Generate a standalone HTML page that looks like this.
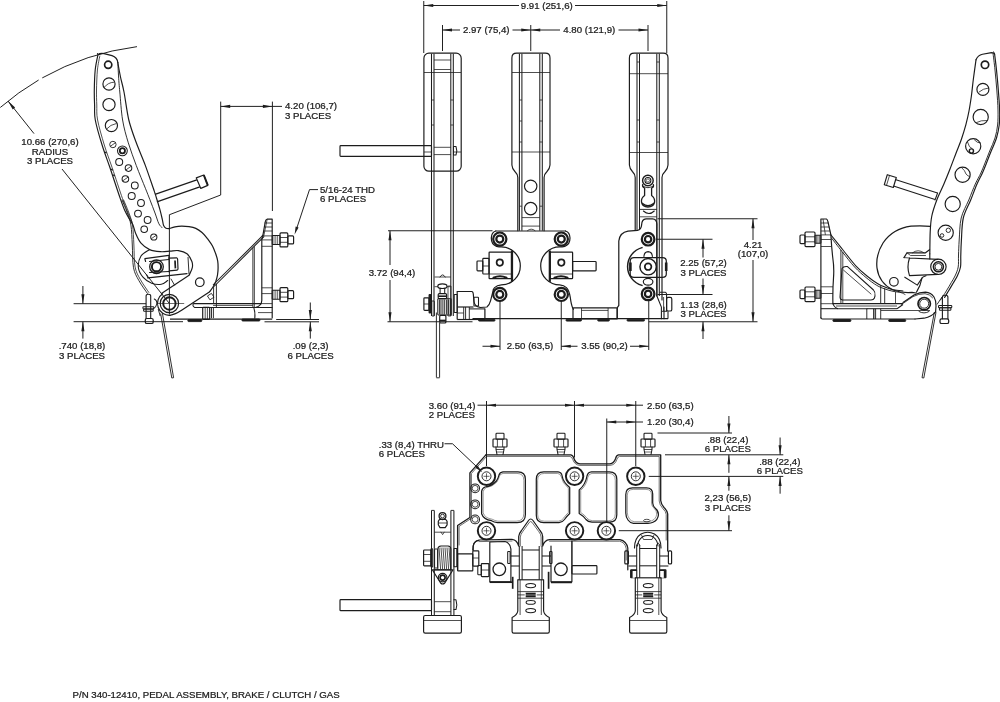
<!DOCTYPE html>
<html><head><meta charset="utf-8"><title>P/N 340-12410 Pedal Assembly</title>
<style>
html,body{margin:0;padding:0;background:#fff;}
body{width:1000px;height:702px;overflow:hidden;font-family:"Liberation Sans",sans-serif;}
svg{display:block;will-change:transform;transform:translateZ(0);}
svg text{font-family:"Liberation Sans",sans-serif;fill:#1c1c1c;}
</style></head><body>
<svg width="1000" height="702" viewBox="0 0 1000 702">
<rect x="0" y="0" width="1000" height="702" fill="#ffffff"/>
<rect x="423.9" y="53.2" width="37.3" height="118" rx="5" stroke="#1c1c1c" stroke-width="1.17" fill="none" />
<line x1="431.5" y1="53.7" x2="431.5" y2="316" stroke="#1c1c1c" stroke-width="1.04" />
<line x1="434" y1="53.7" x2="434" y2="316" stroke="#1c1c1c" stroke-width="1.04" />
<line x1="450.8" y1="53.7" x2="450.8" y2="316" stroke="#1c1c1c" stroke-width="1.04" />
<line x1="453.3" y1="53.7" x2="453.3" y2="316" stroke="#1c1c1c" stroke-width="1.04" />
<line x1="434" y1="60" x2="450.8" y2="60" stroke="#1c1c1c" stroke-width="0.78" />
<line x1="434" y1="69.5" x2="450.8" y2="69.5" stroke="#1c1c1c" stroke-width="0.78" />
<line x1="424" y1="72.5" x2="461" y2="72.5" stroke="#1c1c1c" stroke-width="0.78" />
<line x1="424" y1="152" x2="431.5" y2="152" stroke="#1c1c1c" stroke-width="0.78" />
<line x1="453.3" y1="152" x2="461" y2="152" stroke="#1c1c1c" stroke-width="0.78" />
<line x1="431.5" y1="100" x2="434" y2="100" stroke="#1c1c1c" stroke-width="0.78" />
<line x1="450.8" y1="100" x2="453.3" y2="100" stroke="#1c1c1c" stroke-width="0.78" />
<line x1="431.5" y1="125" x2="434" y2="125" stroke="#1c1c1c" stroke-width="0.78" />
<line x1="450.8" y1="125" x2="453.3" y2="125" stroke="#1c1c1c" stroke-width="0.78" />
<rect x="340" y="145.6" width="91.5" height="10.7" rx="0.8" stroke="#1c1c1c" stroke-width="1.17" fill="none" />
<line x1="434" y1="147.3" x2="450.8" y2="147.3" stroke="#1c1c1c" stroke-width="0.78" />
<line x1="434" y1="154.6" x2="450.8" y2="154.6" stroke="#1c1c1c" stroke-width="0.78" />
<path d="M453.5 146.5 L456 146.5 Q457.6 150.9 456 155 L453.5 155 Z" stroke="#1c1c1c" stroke-width="1.04" fill="none" stroke-linejoin="round" stroke-linecap="round" />
<path d="M511.9 58 Q511.9 53.2 516.7 53.2 L545.3 53.2 Q550 53.2 550 58 L550 165 Q549.8 168.5 547 171.5 Q544.3 174 544.1 177.5 L544.1 230.7 M511.9 58 L511.9 165 Q512.1 168.5 514.9 171.5 Q517.6 174 517.8 177.5 L517.8 230.7" stroke="#1c1c1c" stroke-width="1.17" fill="none" stroke-linejoin="round" stroke-linecap="round" />
<line x1="519.4" y1="53.7" x2="519.4" y2="230.7" stroke="#1c1c1c" stroke-width="1.04" />
<line x1="521.9" y1="53.7" x2="521.9" y2="230.7" stroke="#1c1c1c" stroke-width="1.04" />
<line x1="539.8" y1="53.7" x2="539.8" y2="230.7" stroke="#1c1c1c" stroke-width="1.04" />
<line x1="542.3" y1="53.7" x2="542.3" y2="230.7" stroke="#1c1c1c" stroke-width="1.04" />
<line x1="512" y1="72.5" x2="550" y2="72.5" stroke="#1c1c1c" stroke-width="0.78" />
<line x1="512" y1="152" x2="550" y2="152" stroke="#1c1c1c" stroke-width="0.78" />
<line x1="519.4" y1="100" x2="521.9" y2="100" stroke="#1c1c1c" stroke-width="0.78" />
<line x1="539.8" y1="100" x2="542.3" y2="100" stroke="#1c1c1c" stroke-width="0.78" />
<line x1="519.4" y1="121" x2="521.9" y2="121" stroke="#1c1c1c" stroke-width="0.78" />
<line x1="539.8" y1="121" x2="542.3" y2="121" stroke="#1c1c1c" stroke-width="0.78" />
<line x1="519.4" y1="142" x2="521.9" y2="142" stroke="#1c1c1c" stroke-width="0.78" />
<line x1="539.8" y1="142" x2="542.3" y2="142" stroke="#1c1c1c" stroke-width="0.78" />
<circle cx="530.7" cy="186.3" r="6.2" stroke="#1c1c1c" stroke-width="1.17" fill="none"/>
<circle cx="530.7" cy="208.6" r="6.2" stroke="#1c1c1c" stroke-width="1.17" fill="none"/>
<line x1="521.9" y1="217.6" x2="539.8" y2="217.6" stroke="#1c1c1c" stroke-width="0.78" />
<line x1="521.9" y1="226.1" x2="539.8" y2="226.1" stroke="#1c1c1c" stroke-width="0.78" />
<line x1="519.4" y1="206.2" x2="521.9" y2="206.2" stroke="#1c1c1c" stroke-width="0.78" />
<line x1="539.8" y1="206.2" x2="542.3" y2="206.2" stroke="#1c1c1c" stroke-width="0.78" />
<path d="M527.5 230.6 Q531.2 227.5 535 230.6" stroke="#1c1c1c" stroke-width="0.78" fill="none" stroke-linejoin="round" stroke-linecap="round" />
<path d="M629.4 58 Q629.4 53.2 634.2 53.2 L663.2 53.2 Q668 53.2 668 58 L668 165 Q667.8 168.5 665 171.5 Q662.2 174 662 177.5 L662 300 M629.4 58 L629.4 165 Q629.6 168.5 632.4 171.5 Q635 174 635.2 177.5 L635.2 230" stroke="#1c1c1c" stroke-width="1.17" fill="none" stroke-linejoin="round" stroke-linecap="round" />
<line x1="637" y1="53.7" x2="637" y2="230" stroke="#1c1c1c" stroke-width="1.04" />
<line x1="639.5" y1="53.7" x2="639.5" y2="230" stroke="#1c1c1c" stroke-width="1.04" />
<line x1="656.8" y1="53.7" x2="656.8" y2="296" stroke="#1c1c1c" stroke-width="1.04" />
<line x1="659.3" y1="53.7" x2="659.3" y2="296" stroke="#1c1c1c" stroke-width="1.04" />
<line x1="629.5" y1="73.7" x2="668" y2="73.7" stroke="#1c1c1c" stroke-width="0.78" />
<line x1="629.5" y1="152.5" x2="668" y2="152.5" stroke="#1c1c1c" stroke-width="0.78" />
<line x1="637" y1="62" x2="639.5" y2="62" stroke="#1c1c1c" stroke-width="0.78" />
<line x1="656.8" y1="62" x2="659.3" y2="62" stroke="#1c1c1c" stroke-width="0.78" />
<line x1="637" y1="120" x2="639.5" y2="120" stroke="#1c1c1c" stroke-width="0.78" />
<line x1="656.8" y1="120" x2="659.3" y2="120" stroke="#1c1c1c" stroke-width="0.78" />
<line x1="637" y1="142" x2="639.5" y2="142" stroke="#1c1c1c" stroke-width="0.78" />
<line x1="656.8" y1="142" x2="659.3" y2="142" stroke="#1c1c1c" stroke-width="0.78" />
<circle cx="647.9" cy="180.5" r="5.3" stroke="#1c1c1c" stroke-width="1.43" fill="none"/>
<circle cx="647.9" cy="180.5" r="3" stroke="#1c1c1c" stroke-width="1.04" fill="none"/>
<circle cx="647.9" cy="180.5" r="1.6" stroke="#1c1c1c" stroke-width="0.65" fill="none"/>
<path d="M642.6 184.6 Q642.2 187.2 644.6 188 L644.6 195.5 Q641 198 641.5 202 Q642.5 206.8 647.9 207 Q653.5 206.8 654.6 202 Q655 198 651.6 195.5 L651.6 188 Q654 187.2 653.4 184.6" stroke="#1c1c1c" stroke-width="1.30" fill="none" stroke-linejoin="round" stroke-linecap="round" />
<path d="M643 186.6 Q647.9 189 653 186.6" stroke="#1c1c1c" stroke-width="0.91" fill="none" stroke-linejoin="round" stroke-linecap="round" />
<path d="M642.5 203.5 Q647.9 208 653.6 203.5" stroke="#1c1c1c" stroke-width="1.56" fill="none" stroke-linejoin="round" stroke-linecap="round" />
<line x1="639.5" y1="209.4" x2="656.8" y2="209.4" stroke="#1c1c1c" stroke-width="0.91" />
<path d="M643.4 211 Q649 216 654.3 211" stroke="#1c1c1c" stroke-width="1.04" fill="none" stroke-linejoin="round" stroke-linecap="round" />
<line x1="639.5" y1="216.8" x2="656.8" y2="216.8" stroke="#1c1c1c" stroke-width="0.78" />
<path d="M495.8 231 L565.5 231" stroke="#1c1c1c" stroke-width="1.23" fill="none" stroke-linejoin="round" stroke-linecap="round" />
<path d="M495.8 231 Q491.5 232.3 491.3 238 Q491.3 244.5 496.5 246.3 Q499 246.9 501.3 246.9 A19 19 0 0 1 501.3 284.9 Q497 285.3 494.6 287.6 Q493.6 288.6 493.3 289.9 M484.9 308.9 L484.9 318.7" stroke="#1c1c1c" stroke-width="1.23" fill="none" stroke-linejoin="round" stroke-linecap="round" />
<path d="M565.5 231 Q569.8 232.3 570 238 Q570 244.5 564.8 246.3 Q562.3 246.9 559.7 246.9 A19 19 0 0 0 559.7 284.9 Q564 285.3 566.4 287.6 Q569.3 290.5 570.3 297.5 Q571.2 304.5 572.6 307.7 L573.4 309.3" stroke="#1c1c1c" stroke-width="1.23" fill="none" stroke-linejoin="round" stroke-linecap="round" />
<circle cx="499.8" cy="239.1" r="6.6" stroke="#1c1c1c" stroke-width="2.21" fill="none"/>
<circle cx="499.8" cy="239.1" r="3.5" stroke="#1c1c1c" stroke-width="2.21" fill="none"/>
<circle cx="561.3" cy="239.1" r="6.6" stroke="#1c1c1c" stroke-width="2.21" fill="none"/>
<circle cx="561.3" cy="239.1" r="3.5" stroke="#1c1c1c" stroke-width="2.21" fill="none"/>
<circle cx="499.8" cy="294.4" r="6.6" stroke="#1c1c1c" stroke-width="2.21" fill="none"/>
<circle cx="499.8" cy="294.4" r="3.5" stroke="#1c1c1c" stroke-width="2.21" fill="none"/>
<circle cx="561.3" cy="294.4" r="6.6" stroke="#1c1c1c" stroke-width="2.21" fill="none"/>
<circle cx="561.3" cy="294.4" r="3.5" stroke="#1c1c1c" stroke-width="2.21" fill="none"/>
<rect x="489.1" y="252.1" width="22.4" height="26.6" rx="0.6" stroke="#1c1c1c" stroke-width="1.23" fill="none" />
<circle cx="499.8" cy="262.6" r="3.2" stroke="#1c1c1c" stroke-width="1.69" fill="none"/>
<line x1="489.1" y1="274" x2="511.5" y2="274" stroke="#1c1c1c" stroke-width="0.78" />
<path d="M493.5 277.8 Q500 274.6 506.5 277.8" stroke="#1c1c1c" stroke-width="2.08" fill="none" stroke-linejoin="round" stroke-linecap="round" />
<line x1="512" y1="250.5" x2="512" y2="281.9" stroke="#1c1c1c" stroke-width="2.21" />
<rect x="482.8" y="258.4" width="6.2" height="15.6" rx="0.8" stroke="#1c1c1c" stroke-width="1.17" fill="none" />
<rect x="477" y="261" width="5.8" height="9.9" rx="0.8" stroke="#1c1c1c" stroke-width="1.17" fill="none" />
<line x1="482.8" y1="266" x2="489" y2="266" stroke="#1c1c1c" stroke-width="0.78" />
<rect x="550.2" y="252.1" width="22.4" height="26.6" rx="0.6" stroke="#1c1c1c" stroke-width="1.23" fill="none" />
<circle cx="561.3" cy="262.6" r="3.2" stroke="#1c1c1c" stroke-width="1.69" fill="none"/>
<line x1="550.2" y1="274" x2="572.6" y2="274" stroke="#1c1c1c" stroke-width="0.78" />
<path d="M554.5 277.8 Q561 274.6 567.5 277.8" stroke="#1c1c1c" stroke-width="2.08" fill="none" stroke-linejoin="round" stroke-linecap="round" />
<line x1="549.8" y1="250.5" x2="549.8" y2="281.9" stroke="#1c1c1c" stroke-width="2.21" />
<rect x="572.6" y="261.5" width="23.5" height="9.4" rx="0.8" stroke="#1c1c1c" stroke-width="1.23" fill="none" />
<line x1="472.5" y1="318.7" x2="666" y2="318.7" stroke="#1c1c1c" stroke-width="1.17" />
<rect x="573" y="307.8" width="44.2" height="11.2" rx="0.8" stroke="#1c1c1c" stroke-width="1.17" fill="none" />
<line x1="581.5" y1="308" x2="581.5" y2="318.7" stroke="#1c1c1c" stroke-width="0.78" />
<line x1="608.1" y1="308" x2="608.1" y2="318.7" stroke="#1c1c1c" stroke-width="0.78" />
<line x1="581.5" y1="310.4" x2="608.1" y2="310.4" stroke="#1c1c1c" stroke-width="0.78" />
<rect x="478.5" y="319.2" width="16.5" height="1.9" rx="0.8" stroke="#1c1c1c" stroke-width="0.91" fill="#1c1c1c" />
<rect x="566" y="319.2" width="15.5" height="1.9" rx="0.8" stroke="#1c1c1c" stroke-width="0.91" fill="#1c1c1c" />
<rect x="597.7" y="319.2" width="11.699999999999932" height="1.9" rx="0.8" stroke="#1c1c1c" stroke-width="0.91" fill="#1c1c1c" />
<rect x="627" y="319.2" width="17.5" height="1.9" rx="0.8" stroke="#1c1c1c" stroke-width="0.91" fill="#1c1c1c" />
<path d="M617.2 318.7 L617.2 308.5 Q617.4 307 618.8 305.5 L618.8 241 Q619.8 232.5 628 231.2 L637.5 230.4 Q641.3 229.5 641.6 225 Q641.8 218.9 646 218.8 L652.5 218.8 Q656.7 219 656.9 224 L656.9 296" stroke="#1c1c1c" stroke-width="1.23" fill="none" stroke-linejoin="round" stroke-linecap="round" />
<circle cx="648.1" cy="239.2" r="6.3" stroke="#1c1c1c" stroke-width="2.21" fill="none"/>
<circle cx="648.1" cy="239.2" r="3.2" stroke="#1c1c1c" stroke-width="2.21" fill="none"/>
<circle cx="648.1" cy="293.9" r="6.3" stroke="#1c1c1c" stroke-width="2.21" fill="none"/>
<circle cx="648.1" cy="293.9" r="3.2" stroke="#1c1c1c" stroke-width="2.21" fill="none"/>
<path d="M642 247.6 A19.6 19.6 0 0 0 642 285.4" stroke="#1c1c1c" stroke-width="1.49" fill="none" stroke-linejoin="round" stroke-linecap="round" />
<path d="M634 257.6 L662.5 257.6 Q666.3 257.8 666.3 261 L666.3 274 Q666.3 277.3 662.5 277.4 L634 277.4 Q630.2 277.3 630.2 274 L630.2 261 Q630.2 257.8 634 257.6 Z" stroke="#1c1c1c" stroke-width="1.23" fill="none" stroke-linejoin="round" stroke-linecap="round" />
<circle cx="648.1" cy="266.7" r="8.2" stroke="#1c1c1c" stroke-width="1.43" fill="none"/>
<circle cx="648.1" cy="266.7" r="3.3" stroke="#1c1c1c" stroke-width="1.69" fill="none"/>
<line x1="630.4" y1="262.5" x2="630.4" y2="271" stroke="#1c1c1c" stroke-width="2.60" />
<line x1="666.2" y1="262.5" x2="666.2" y2="271" stroke="#1c1c1c" stroke-width="2.60" />
<path d="M643.9 256.5 Q644.3 251.8 648.1 251.6 Q652 251.8 652.4 256.5" stroke="#1c1c1c" stroke-width="1.10" fill="none" stroke-linejoin="round" stroke-linecap="round" />
<ellipse cx="648.1" cy="281.8" rx="4.8" ry="3.4" stroke="#1c1c1c" stroke-width="1.17" fill="none" transform="rotate(0 648.1 281.8)"/>
<path d="M660.1 292.2 L665.3 292.2 Q666.6 292.5 666.6 294.5 L666.6 311.2 L662.5 311.2" stroke="#1c1c1c" stroke-width="1.10" fill="none" stroke-linejoin="round" stroke-linecap="round" />
<rect x="666.6" y="297.4" width="5.2" height="13.6" rx="1.6" stroke="#1c1c1c" stroke-width="1.17" fill="none" />
<line x1="663.6" y1="297" x2="663.6" y2="311" stroke="#1c1c1c" stroke-width="0.78" />
<path d="M656.9 296 L661.4 307.1 L661.4 318.7 M664 307.1 L664 318.7" stroke="#1c1c1c" stroke-width="1.10" fill="none" stroke-linejoin="round" stroke-linecap="round" />
<line x1="666" y1="318.7" x2="668" y2="318.7" stroke="#1c1c1c" stroke-width="1.17" />
<line x1="668" y1="311.2" x2="668" y2="318.7" stroke="#1c1c1c" stroke-width="1.04" />
<rect x="423.9" y="297.8" width="5.1" height="12.5" rx="0.8" stroke="#1c1c1c" stroke-width="1.17" fill="none" />
<line x1="423.9" y1="304" x2="429" y2="304" stroke="#1c1c1c" stroke-width="0.78" />
<rect x="429.2" y="294.6" width="1.5" height="18.3" rx="0.5" stroke="#1c1c1c" stroke-width="1.30" fill="#1c1c1c" />
<rect x="431.8" y="301" width="2.6" height="15" rx="0.4" stroke="#1c1c1c" stroke-width="0.91" fill="none" />
<line x1="434.5" y1="277" x2="450.7" y2="277" stroke="#1c1c1c" stroke-width="0.78" />
<path d="M440 277 Q442.6 272.5 445.2 277" stroke="#1c1c1c" stroke-width="0.91" fill="none" stroke-linejoin="round" stroke-linecap="round" />
<line x1="434.5" y1="286.7" x2="438" y2="286.7" stroke="#1c1c1c" stroke-width="0.78" />
<line x1="447" y1="286.7" x2="450.7" y2="286.7" stroke="#1c1c1c" stroke-width="0.78" />
<ellipse cx="442.4" cy="286.2" rx="4.6" ry="2.3" stroke="#1c1c1c" stroke-width="1.17" fill="none" transform="rotate(0 442.4 286.2)"/>
<path d="M440.1 288.3 L440.1 293.6 M444.7 288.3 L444.7 293.6" stroke="#1c1c1c" stroke-width="1.04" fill="none" stroke-linejoin="round" stroke-linecap="round" />
<rect x="438.2" y="293.6" width="8.4" height="5.1" rx="1.2" stroke="#1c1c1c" stroke-width="1.17" fill="none" />
<line x1="438.2" y1="296.2" x2="446.6" y2="296.2" stroke="#1c1c1c" stroke-width="1.56" />
<rect x="437.8" y="298.7" width="13.4" height="16.2" rx="0.6" stroke="#1c1c1c" stroke-width="1.04" fill="none" />
<line x1="439.6" y1="299.5" x2="439.6" y2="314.5" stroke="#1c1c1c" stroke-width="0.91" />
<line x1="441" y1="299.5" x2="441" y2="314.5" stroke="#1c1c1c" stroke-width="0.91" />
<line x1="442.9" y1="299.5" x2="442.9" y2="314.5" stroke="#1c1c1c" stroke-width="0.91" />
<line x1="444.7" y1="299.5" x2="444.7" y2="314.5" stroke="#1c1c1c" stroke-width="0.91" />
<line x1="446.6" y1="299.5" x2="446.6" y2="314.5" stroke="#1c1c1c" stroke-width="0.91" />
<line x1="448.4" y1="299.5" x2="448.4" y2="314.5" stroke="#1c1c1c" stroke-width="0.91" />
<line x1="450.2" y1="299.5" x2="450.2" y2="314.5" stroke="#1c1c1c" stroke-width="0.91" />
<rect x="448" y="286" width="3" height="30" rx="0.3" stroke="#1c1c1c" stroke-width="0.78" fill="none" />
<rect x="439.7" y="315.4" width="6.2" height="7.6" rx="1" stroke="#1c1c1c" stroke-width="1.17" fill="none" />
<line x1="439.7" y1="320.5" x2="445.9" y2="320.5" stroke="#1c1c1c" stroke-width="1.69" />
<line x1="436.4" y1="312.5" x2="436.4" y2="377.5" stroke="#1c1c1c" stroke-width="0.91" />
<line x1="439.6" y1="323" x2="439.6" y2="377.5" stroke="#1c1c1c" stroke-width="0.91" />
<line x1="436.4" y1="377.8" x2="439.6" y2="377.8" stroke="#1c1c1c" stroke-width="0.91" />
<rect x="454.2" y="294.5" width="3" height="18" rx="0.5" stroke="#1c1c1c" stroke-width="1.04" fill="none" />
<path d="M457.2 291.5 L472 291.5 Q473.2 292 473.3 294 L473.9 301 Q474.5 305.5 477.5 306.6 L480.4 307.5" stroke="#1c1c1c" stroke-width="1.17" fill="none" stroke-linejoin="round" stroke-linecap="round" />
<line x1="457.2" y1="291.5" x2="457.2" y2="319.5" stroke="#1c1c1c" stroke-width="1.17" />
<line x1="457.2" y1="307" x2="473.5" y2="307" stroke="#1c1c1c" stroke-width="1.17" />
<rect x="473.9" y="297.3" width="4.6" height="8.8" rx="0.6" stroke="#1c1c1c" stroke-width="1.04" fill="none" />
<path d="M480.4 307.5 L486.9 307 Q489.5 305 490.6 300.6 L493.3 289.9" stroke="#1c1c1c" stroke-width="1.17" fill="none" stroke-linejoin="round" stroke-linecap="round" />
<line x1="457.2" y1="319.5" x2="484.9" y2="319.5" stroke="#1c1c1c" stroke-width="1.17" />
<line x1="463.7" y1="307" x2="463.7" y2="319.5" stroke="#1c1c1c" stroke-width="0.91" />
<line x1="465.6" y1="307" x2="465.6" y2="319.5" stroke="#1c1c1c" stroke-width="0.91" />
<line x1="469.3" y1="307" x2="469.3" y2="319.5" stroke="#1c1c1c" stroke-width="0.91" />
<line x1="469.3" y1="308.9" x2="484.9" y2="308.9" stroke="#1c1c1c" stroke-width="1.04" />
<line x1="457.2" y1="313" x2="463.7" y2="313" stroke="#1c1c1c" stroke-width="0.78" />
<path d="M98.0 54.5 C97.5 57.1 95.8 64.1 95.2 70.0 C94.6 75.9 94.4 84.2 94.3 90.0 C94.2 95.8 94.4 100.0 94.6 105.0 C94.8 110.0 94.0 113.3 95.3 120.0 C96.5 126.7 99.6 137.0 102.1 145.0 C104.5 153.0 107.0 158.9 110.0 167.8 C113.0 176.7 117.8 191.5 120.3 198.6 C122.8 205.7 123.2 206.9 124.8 210.5 C126.4 214.1 128.6 217.6 130.0 220.0 C131.4 222.4 132.1 222.8 133.0 225.0 C133.9 227.2 134.4 230.5 135.7 233.5 C137.0 236.5 138.7 240.5 141.0 243.2 C143.3 245.9 146.4 248.2 149.6 249.6 C152.8 251.0 156.9 251.4 160.3 251.7 C163.7 252.0 166.9 251.4 169.9 251.2 C172.9 251.0 175.6 250.2 178.4 250.6 C181.2 251.0 184.8 252.0 187.0 253.8 C189.2 255.6 190.9 259.0 191.8 261.3 C192.7 263.6 192.8 265.4 192.3 267.7 C191.9 270.0 189.6 273.9 189.1 275.2" stroke="#1c1c1c" stroke-width="1.17" fill="none" stroke-linejoin="round" stroke-linecap="round" />
<path d="M99.8 56.0 C99.4 58.3 98.0 64.3 97.4 70.0 C96.9 75.7 96.6 84.2 96.5 90.0 C96.4 95.8 96.6 100.0 96.8 105.0 C97.0 110.0 96.3 113.3 97.6 120.0 C98.8 126.7 101.9 137.0 104.3 145.0 C106.7 153.0 109.2 158.9 112.2 167.8 C115.2 176.7 120.0 191.5 122.5 198.6 C125.0 205.7 125.4 206.6 127.0 210.5 C128.6 214.4 131.2 220.1 132.0 222.0" stroke="#1c1c1c" stroke-width="0.78" fill="none" stroke-linejoin="round" stroke-linecap="round" />
<path d="M98 54.5 Q100 53 104 53.6 L112 55.6 Q117.3 57.3 117.8 62.5" stroke="#1c1c1c" stroke-width="1.17" fill="none" stroke-linejoin="round" stroke-linecap="round" />
<line x1="98" y1="54.5" x2="97.2" y2="53" stroke="#1c1c1c" stroke-width="0.91" />
<path d="M117.8 62.5 C118.2 64.9 119.5 72.1 120.5 77.0 C121.5 81.9 122.6 84.8 124.0 92.0 C125.4 99.2 126.8 111.5 128.8 120.0 C130.9 128.5 133.5 135.2 136.3 142.8 C139.1 150.4 142.6 158.0 145.4 165.6 C148.2 173.2 151.6 183.4 153.3 188.3 C155.0 193.2 154.5 191.6 155.6 195.2 C156.7 198.8 158.9 205.8 160.0 209.9 C161.1 214.0 161.8 217.2 162.4 219.8 C163.0 222.4 163.0 224.1 163.6 225.5 C164.2 226.9 165.0 227.7 166.0 228.2 C167.0 228.7 168.8 228.5 169.4 228.6" stroke="#1c1c1c" stroke-width="1.17" fill="none" stroke-linejoin="round" stroke-linecap="round" />
<path d="M117.8 62.5 C117.9 64.9 118.3 72.1 118.6 77.0 C118.9 81.9 119.1 84.8 119.8 92.0 C120.5 99.2 121.2 111.5 122.6 120.0 C124.0 128.5 126.0 135.2 128.3 142.8 C130.6 150.4 133.5 158.0 136.3 165.6 C139.2 173.2 143.1 182.6 145.4 188.3 C147.7 194.0 148.3 195.6 149.9 199.7 C151.5 203.8 153.5 209.0 155.0 213.0 C156.5 217.0 157.7 221.4 158.9 223.8 C160.1 226.2 161.5 226.9 162.0 227.5" stroke="#1c1c1c" stroke-width="0.91" fill="none" stroke-linejoin="round" stroke-linecap="round" />
<circle cx="108.2" cy="64.8" r="3.6" stroke="#1c1c1c" stroke-width="1.69" fill="none"/>
<circle cx="109" cy="84" r="6.1" stroke="#1c1c1c" stroke-width="1.17" fill="none"/>
<circle cx="109" cy="104.6" r="6.1" stroke="#1c1c1c" stroke-width="1.17" fill="none"/>
<circle cx="111.4" cy="125.6" r="6.1" stroke="#1c1c1c" stroke-width="1.17" fill="none"/>
<path d="M104.5 87 Q108 82.5 113.8 82.2" stroke="#1c1c1c" stroke-width="0.78" fill="none" stroke-linejoin="round" stroke-linecap="round" />
<path d="M108.5 110.5 Q111 111 112.5 109.3" stroke="#1c1c1c" stroke-width="0.78" fill="none" stroke-linejoin="round" stroke-linecap="round" />
<path d="M106.8 128.8 Q110.5 124.5 116 123.6" stroke="#1c1c1c" stroke-width="0.78" fill="none" stroke-linejoin="round" stroke-linecap="round" />
<circle cx="112.9" cy="144.5" r="3.2" stroke="#1c1c1c" stroke-width="0.91" fill="none"/>
<line x1="110.27871345827523" y1="146.33544459632336" x2="115.52128654172478" y2="142.66455540367664" stroke="#1c1c1c" stroke-width="0.78" />
<circle cx="122.4" cy="150.8" r="4.9" stroke="#1c1c1c" stroke-width="1.04" fill="none"/>
<circle cx="122.4" cy="150.8" r="2.6" stroke="#1c1c1c" stroke-width="1.82" fill="none"/>
<circle cx="119.2" cy="161.9" r="3.5" stroke="#1c1c1c" stroke-width="1.04" fill="none"/>
<circle cx="128.5" cy="168.1" r="3.3" stroke="#1c1c1c" stroke-width="1.04" fill="none"/>
<line x1="125.79679825384633" y1="169.99280223995845" x2="131.20320174615367" y2="166.20719776004154" stroke="#1c1c1c" stroke-width="0.78" />
<circle cx="125.4" cy="179" r="3.3" stroke="#1c1c1c" stroke-width="1.04" fill="none"/>
<line x1="122.69679825384634" y1="180.89280223995846" x2="128.10320174615367" y2="177.10719776004154" stroke="#1c1c1c" stroke-width="0.78" />
<circle cx="134.8" cy="185.5" r="3.4" stroke="#1c1c1c" stroke-width="1.04" fill="none"/>
<circle cx="131.7" cy="196.1" r="3.5" stroke="#1c1c1c" stroke-width="1.04" fill="none"/>
<circle cx="141" cy="203" r="3.4" stroke="#1c1c1c" stroke-width="1.04" fill="none"/>
<circle cx="138" cy="213.6" r="3.4" stroke="#1c1c1c" stroke-width="1.04" fill="none"/>
<circle cx="147.6" cy="220" r="3.4" stroke="#1c1c1c" stroke-width="1.04" fill="none"/>
<circle cx="144.2" cy="229.2" r="3.3" stroke="#1c1c1c" stroke-width="1.04" fill="none"/>
<circle cx="153.8" cy="237" r="3.1" stroke="#1c1c1c" stroke-width="1.04" fill="none"/>
<line x1="151.26062866270414" y1="238.77808695268826" x2="156.3393713372959" y2="235.22191304731174" stroke="#1c1c1c" stroke-width="0.78" />
<line x1="104.8" y1="151.9" x2="106.6" y2="153.1" stroke="#1c1c1c" stroke-width="1.17" />
<line x1="111.0" y1="169.0" x2="112.8" y2="170.2" stroke="#1c1c1c" stroke-width="1.17" />
<line x1="113.0" y1="174.70000000000002" x2="114.8" y2="175.9" stroke="#1c1c1c" stroke-width="1.17" />
<line x1="155" y1="194.4" x2="196.8" y2="179.9" stroke="#1c1c1c" stroke-width="1.17" />
<line x1="156.9" y1="201.9" x2="199.8" y2="186.9" stroke="#1c1c1c" stroke-width="1.17" />
<path d="M196.3 177.9 L203.8 175 L207.8 185.4 L200.8 188.4 Z" stroke="#1c1c1c" stroke-width="1.17" fill="none" stroke-linejoin="round" stroke-linecap="round" />
<line x1="203.8" y1="175" x2="207.8" y2="185.4" stroke="#1c1c1c" stroke-width="1.95" />
<path d="M122.0 200.0 C122.8 202.0 125.5 207.8 127.0 212.0 C128.5 216.2 130.0 219.5 130.9 225.0 C131.8 230.5 131.9 237.9 132.3 245.0 C132.7 252.1 132.4 261.8 133.5 267.7 C134.6 273.6 136.6 276.3 138.9 280.6 C141.2 284.9 146.0 291.3 147.4 293.4" stroke="#1c1c1c" stroke-width="0.91" fill="none" stroke-linejoin="round" stroke-linecap="round" />
<path d="M123.6 200.0 C124.4 202.0 127.1 207.8 128.6 212.0 C130.1 216.2 131.6 219.5 132.5 225.0 C133.4 230.5 133.5 238.0 133.9 245.0 C134.3 252.0 134.0 261.2 135.1 267.0 C136.2 272.8 138.1 275.4 140.4 279.6 C142.7 283.8 147.4 290.3 148.8 292.4" stroke="#1c1c1c" stroke-width="0.78" fill="none" stroke-linejoin="round" stroke-linecap="round" />
<path d="M169.4 228.6 C170.3 228.3 172.9 227.2 175.0 226.8 C177.1 226.4 179.5 226.2 181.8 226.2 C184.1 226.2 186.7 226.2 189.0 226.6 C191.3 227.0 193.6 227.4 195.8 228.4 C198.0 229.4 200.0 230.8 202.0 232.5 C204.0 234.2 205.9 236.7 207.7 238.9 C209.4 241.2 211.2 243.5 212.5 246.0 C213.8 248.5 214.8 251.3 215.7 253.8 C216.6 256.3 217.3 258.7 217.7 261.0 C218.1 263.3 218.1 265.5 218.1 267.8 C218.1 270.1 217.9 272.7 217.5 275.0 C217.1 277.3 216.4 279.8 215.7 281.8 C214.9 283.8 214.0 285.4 213.0 287.0 C212.0 288.6 210.2 290.9 209.7 291.7" stroke="#1c1c1c" stroke-width="1.23" fill="none" stroke-linejoin="round" stroke-linecap="round" />
<path d="M209.7 291.7 L182 310 Q175 314.6 169.9 315.3" stroke="#1c1c1c" stroke-width="1.23" fill="none" stroke-linejoin="round" stroke-linecap="round" />
<circle cx="169.4" cy="303.5" r="9.2" stroke="#1c1c1c" stroke-width="1.17" fill="none"/>
<circle cx="169.4" cy="303.5" r="6.2" stroke="#1c1c1c" stroke-width="1.95" fill="none"/>
<path d="M162.6 293.8 A11.8 11.8 0 0 0 169.9 315.3" stroke="#1c1c1c" stroke-width="1.17" fill="none" stroke-linejoin="round" stroke-linecap="round" />
<line x1="157" y1="303.5" x2="184.2" y2="303.5" stroke="#1c1c1c" stroke-width="0.65" />
<line x1="189.1" y1="275.2" x2="161.5" y2="293.6" stroke="#1c1c1c" stroke-width="1.17" />
<path d="M149.6 249.6 C148.2 250.7 142.9 253.0 141.0 256.0 C139.1 259.0 138.0 264.1 138.4 267.7 C138.8 271.3 141.0 274.8 143.2 277.4 C145.4 280.0 148.7 282.0 151.7 283.2 C154.7 284.4 158.6 284.7 161.3 284.3 C164.0 283.9 166.6 281.2 167.7 280.6" stroke="#1c1c1c" stroke-width="1.10" fill="none" stroke-linejoin="round" stroke-linecap="round" />
<path d="M171 279 L174.5 285" stroke="#1c1c1c" stroke-width="0.91" fill="none" stroke-linejoin="round" stroke-linecap="round" />
<path d="M145.6 261.5 L144.8 258.7 L168.8 255.4" stroke="#1c1c1c" stroke-width="1.17" fill="none" stroke-linejoin="round" stroke-linecap="round" />
<path d="M149.5 261.6 L168.8 259.6 M149.5 272.6 L168.8 271.6" stroke="#1c1c1c" stroke-width="1.04" fill="none" stroke-linejoin="round" stroke-linecap="round" />
<path d="M148 277.9 L187 273.6" stroke="#1c1c1c" stroke-width="1.23" fill="none" stroke-linejoin="round" stroke-linecap="round" />
<path d="M148 277.9 L146.6 274.8" stroke="#1c1c1c" stroke-width="1.04" fill="none" stroke-linejoin="round" stroke-linecap="round" />
<path d="M168.8 258.1 L176.6 257.8 Q177.5 258 177.6 259.2 L178 268.8 Q178 270 177 270.2 L169.3 270.9" stroke="#1c1c1c" stroke-width="1.17" fill="none" stroke-linejoin="round" stroke-linecap="round" />
<line x1="175" y1="260.5" x2="175.4" y2="268.4" stroke="#1c1c1c" stroke-width="1.69" />
<line x1="168.8" y1="255.4" x2="169.3" y2="272.8" stroke="#1c1c1c" stroke-width="0.91" />
<line x1="188" y1="257" x2="189" y2="274" stroke="#1c1c1c" stroke-width="0.91" />
<circle cx="156.5" cy="266.7" r="6.8" stroke="#1c1c1c" stroke-width="1.30" fill="none"/>
<circle cx="156.5" cy="266.7" r="4.6" stroke="#1c1c1c" stroke-width="1.95" fill="none"/>
<circle cx="199.8" cy="282.2" r="4.3" stroke="#1c1c1c" stroke-width="1.23" fill="none"/>
<rect x="208.3" y="294.3" width="4.8" height="4.6" stroke="#1c1c1c" stroke-width="0.8" fill="none" transform="rotate(-33 210.7 296.6)"/>
<path d="M146.1 296 Q146.1 294.3 148.4 294.3 Q150.7 294.3 150.7 296 L150.7 318.5 M146.1 296 L146.1 318.5" stroke="#1c1c1c" stroke-width="1.10" fill="none" stroke-linejoin="round" stroke-linecap="round" />
<rect x="142.9" y="306.7" width="11" height="2.2" rx="0.8" stroke="#1c1c1c" stroke-width="1.04" fill="none" />
<rect x="143.6" y="308.9" width="9.6" height="2.4" rx="0.8" stroke="#1c1c1c" stroke-width="1.04" fill="none" />
<rect x="145.3" y="318.5" width="7.9" height="5" rx="1.6" stroke="#1c1c1c" stroke-width="1.23" fill="none" />
<path d="M154.3 299 Q157.3 300.5 156.8 304 Q156 307.5 153.5 308.5" stroke="#1c1c1c" stroke-width="1.04" fill="none" stroke-linejoin="round" stroke-linecap="round" />
<line x1="160.6" y1="313.5" x2="171.8" y2="378" stroke="#1c1c1c" stroke-width="0.91" />
<line x1="162.4" y1="313.2" x2="173.6" y2="377.7" stroke="#1c1c1c" stroke-width="0.91" />
<line x1="171.8" y1="378" x2="173.6" y2="377.7" stroke="#1c1c1c" stroke-width="0.91" />
<line x1="158.2" y1="309" x2="160.2" y2="316" stroke="#1c1c1c" stroke-width="0.91" />
<path d="M272.2 219.2 L272.2 317.8 M272.2 219.2 L267 219.2 Q265.6 219.6 265.2 222 L262.8 235.8 L261.8 239.5 L261.8 300.5 Q261.5 305.8 256 307.4" stroke="#1c1c1c" stroke-width="1.17" fill="none" stroke-linejoin="round" stroke-linecap="round" />
<line x1="264.6" y1="223" x2="272.2" y2="223" stroke="#1c1c1c" stroke-width="0.78" />
<line x1="264.6" y1="227" x2="272.2" y2="227" stroke="#1c1c1c" stroke-width="0.78" />
<line x1="263.6" y1="231" x2="272.2" y2="231" stroke="#1c1c1c" stroke-width="0.78" />
<line x1="267.2" y1="219.2" x2="263.8" y2="235.8" stroke="#1c1c1c" stroke-width="0.78" />
<line x1="261.8" y1="235.9" x2="272.2" y2="235.9" stroke="#1c1c1c" stroke-width="0.78" />
<line x1="261.8" y1="239.9" x2="272.2" y2="239.9" stroke="#1c1c1c" stroke-width="0.78" />
<line x1="261.8" y1="246.3" x2="272.2" y2="246.3" stroke="#1c1c1c" stroke-width="0.78" />
<line x1="261.8" y1="287.8" x2="272.2" y2="287.8" stroke="#1c1c1c" stroke-width="0.78" />
<line x1="261.8" y1="293.6" x2="272.2" y2="293.6" stroke="#1c1c1c" stroke-width="0.78" />
<line x1="261.8" y1="303.6" x2="272.2" y2="303.6" stroke="#1c1c1c" stroke-width="0.78" />
<rect x="272.2" y="235.4" width="7.8" height="9" rx="0.5" stroke="#1c1c1c" stroke-width="1.04" fill="none" />
<line x1="274" y1="235.4" x2="274" y2="244.4" stroke="#1c1c1c" stroke-width="0.65" />
<line x1="275.8" y1="235.4" x2="275.8" y2="244.4" stroke="#1c1c1c" stroke-width="0.65" />
<line x1="277.6" y1="235.4" x2="277.6" y2="244.4" stroke="#1c1c1c" stroke-width="0.65" />
<rect x="280" y="232.9" width="7.8" height="14" rx="1" stroke="#1c1c1c" stroke-width="1.17" fill="none" />
<line x1="280" y1="237.5" x2="287.8" y2="237.5" stroke="#1c1c1c" stroke-width="0.78" />
<line x1="280" y1="242.3" x2="287.8" y2="242.3" stroke="#1c1c1c" stroke-width="0.78" />
<rect x="287.8" y="235.9" width="5.8" height="8" rx="1" stroke="#1c1c1c" stroke-width="1.17" fill="none" />
<rect x="272.2" y="290.2" width="7.8" height="9" rx="0.5" stroke="#1c1c1c" stroke-width="1.04" fill="none" />
<line x1="274" y1="290.2" x2="274" y2="299.2" stroke="#1c1c1c" stroke-width="0.65" />
<line x1="275.8" y1="290.2" x2="275.8" y2="299.2" stroke="#1c1c1c" stroke-width="0.65" />
<line x1="277.6" y1="290.2" x2="277.6" y2="299.2" stroke="#1c1c1c" stroke-width="0.65" />
<rect x="280" y="287.7" width="7.8" height="14" rx="1" stroke="#1c1c1c" stroke-width="1.17" fill="none" />
<line x1="280" y1="292.3" x2="287.8" y2="292.3" stroke="#1c1c1c" stroke-width="0.78" />
<line x1="280" y1="297.09999999999997" x2="287.8" y2="297.09999999999997" stroke="#1c1c1c" stroke-width="0.78" />
<rect x="287.8" y="290.7" width="5.8" height="8" rx="1" stroke="#1c1c1c" stroke-width="1.17" fill="none" />
<line x1="263.4" y1="234.9" x2="213" y2="285" stroke="#1c1c1c" stroke-width="1.04" />
<line x1="264.2" y1="236.4" x2="214" y2="286.5" stroke="#1c1c1c" stroke-width="1.04" />
<line x1="252.9" y1="247.9" x2="252.9" y2="307.4" stroke="#1c1c1c" stroke-width="0.91" />
<line x1="254.4" y1="246.4" x2="254.4" y2="307.4" stroke="#1c1c1c" stroke-width="0.78" />
<line x1="216.4" y1="283.8" x2="216.4" y2="307.4" stroke="#1c1c1c" stroke-width="0.91" />
<line x1="213.6" y1="286.5" x2="213.6" y2="303.7" stroke="#1c1c1c" stroke-width="0.91" />
<line x1="193.5" y1="303.7" x2="261.8" y2="303.7" stroke="#1c1c1c" stroke-width="1.17" />
<line x1="201" y1="307.4" x2="256" y2="307.4" stroke="#1c1c1c" stroke-width="1.04" />
<line x1="213" y1="305.4" x2="252.9" y2="305.4" stroke="#1c1c1c" stroke-width="0.78" />
<path d="M193.5 303.7 Q192 305.5 194.5 307.4 L201 307.4" stroke="#1c1c1c" stroke-width="1.04" fill="none" stroke-linejoin="round" stroke-linecap="round" />
<line x1="170" y1="319.1" x2="272.2" y2="319.1" stroke="#1c1c1c" stroke-width="1.17" />
<path d="M253.8 307.4 Q255.4 312.5 254.8 318.2" stroke="#1c1c1c" stroke-width="1.04" fill="none" stroke-linejoin="round" stroke-linecap="round" />
<path d="M256 307.4 L272.2 307.4" stroke="#1c1c1c" stroke-width="1.04" fill="none" stroke-linejoin="round" stroke-linecap="round" />
<line x1="258" y1="312.6" x2="272.2" y2="312.6" stroke="#1c1c1c" stroke-width="0.78" />
<rect x="202.7" y="307.4" width="7" height="12" rx="0.8" stroke="#1c1c1c" stroke-width="1.17" fill="none" />
<line x1="205.2" y1="307.4" x2="205.2" y2="319.4" stroke="#1c1c1c" stroke-width="0.78" />
<line x1="207.4" y1="307.4" x2="207.4" y2="319.4" stroke="#1c1c1c" stroke-width="0.78" />
<line x1="211.5" y1="307.4" x2="211.5" y2="318.2" stroke="#1c1c1c" stroke-width="0.91" />
<line x1="213.4" y1="307.4" x2="213.4" y2="318.2" stroke="#1c1c1c" stroke-width="0.91" />
<rect x="187.8" y="319.6" width="14" height="2" rx="0.8" stroke="#1c1c1c" stroke-width="0.91" fill="#1c1c1c" />
<rect x="241.9" y="319" width="18" height="2" rx="0.8" stroke="#1c1c1c" stroke-width="0.91" fill="#1c1c1c" />
<path d="M976.0 59.8 C975.6 62.8 974.3 72.0 973.5 78.0 C972.7 84.0 972.1 90.5 971.4 96.0 C970.6 101.5 969.9 106.2 969.0 111.0 C968.1 115.8 967.1 119.9 965.9 124.6 C964.6 129.3 963.1 134.2 961.5 139.0 C959.9 143.8 957.9 148.2 956.0 153.2 C954.1 158.2 952.0 163.9 950.0 169.0 C948.0 174.1 946.1 178.8 943.9 184.0 C941.7 189.2 938.8 194.7 936.8 200.0 C934.8 205.3 932.9 210.7 931.8 216.0 C930.7 221.3 930.5 225.6 930.2 231.9 C929.9 238.2 929.9 250.2 929.8 253.8" stroke="#1c1c1c" stroke-width="1.17" fill="none" stroke-linejoin="round" stroke-linecap="round" />
<path d="M976 59.8 Q977.8 55.5 982.5 54.3 L991.5 52.6 Q993.8 52.6 994.6 54" stroke="#1c1c1c" stroke-width="1.17" fill="none" stroke-linejoin="round" stroke-linecap="round" />
<path d="M994.6 54.0 C994.9 56.7 995.9 64.0 996.5 70.0 C997.1 76.0 997.8 83.3 998.3 90.0 C998.8 96.7 999.5 104.2 999.6 110.0 C999.8 115.8 999.7 120.3 999.2 125.0 C998.7 129.7 997.8 133.7 996.5 138.0 C995.2 142.3 992.9 146.8 991.2 151.0 C989.5 155.2 988.0 159.3 986.5 163.0 C985.0 166.7 984.0 169.5 982.4 173.0 C980.8 176.5 979.0 179.5 977.0 184.0 C975.0 188.5 973.0 194.3 970.7 200.0 C968.4 205.7 964.8 211.3 963.3 218.0 C961.8 224.7 961.8 233.8 961.4 240.0 C961.0 246.2 960.9 250.5 960.8 255.0 C960.6 259.5 961.1 263.5 960.5 267.0 C959.9 270.5 958.5 273.4 957.3 276.0 C956.1 278.6 954.9 280.2 953.4 282.7 C951.9 285.2 950.0 288.5 948.5 291.0 C947.0 293.5 945.2 296.4 944.6 297.5" stroke="#1c1c1c" stroke-width="1.17" fill="none" stroke-linejoin="round" stroke-linecap="round" />
<path d="M993.0 53.0 C993.3 55.8 994.4 63.8 995.0 70.0 C995.6 76.2 996.3 83.3 996.8 90.0 C997.3 96.7 997.9 104.2 998.0 110.0 C998.1 115.8 998.1 120.3 997.6 125.0 C997.1 129.7 996.3 133.7 995.0 138.0 C993.7 142.3 991.4 146.8 989.7 151.0 C988.0 155.2 986.5 159.3 985.0 163.0 C983.5 166.7 982.5 169.5 980.9 173.0 C979.3 176.5 977.3 179.5 975.3 184.0 C973.3 188.5 971.1 194.3 968.8 200.0 C966.4 205.7 962.8 211.3 961.2 218.0 C959.6 224.7 959.7 233.8 959.2 240.0 C958.8 246.2 958.7 250.5 958.5 255.0 C958.3 259.5 958.8 263.5 958.2 267.0 C957.6 270.5 956.2 273.4 955.0 276.0 C953.8 278.6 952.7 280.2 951.2 282.7 C949.8 285.2 948.1 288.1 946.3 291.0 C944.5 293.9 941.5 298.5 940.5 300.0" stroke="#1c1c1c" stroke-width="0.91" fill="none" stroke-linejoin="round" stroke-linecap="round" />
<line x1="994.6" y1="54" x2="993.5" y2="51.5" stroke="#1c1c1c" stroke-width="0.91" />
<circle cx="985" cy="64.8" r="3.7" stroke="#1c1c1c" stroke-width="1.69" fill="none"/>
<circle cx="982.9" cy="89.4" r="6" stroke="#1c1c1c" stroke-width="1.17" fill="none"/>
<path d="M979 92 Q983 88.5 988.5 88" stroke="#1c1c1c" stroke-width="0.78" fill="none" stroke-linejoin="round" stroke-linecap="round" />
<circle cx="980.7" cy="117" r="7.6" stroke="#1c1c1c" stroke-width="1.17" fill="none"/>
<path d="M976.5 122.5 Q981 120 987 120.5" stroke="#1c1c1c" stroke-width="0.78" fill="none" stroke-linejoin="round" stroke-linecap="round" />
<circle cx="973.2" cy="146.2" r="7.6" stroke="#1c1c1c" stroke-width="1.17" fill="none"/>
<circle cx="971.4" cy="151" r="2.1" stroke="#1c1c1c" stroke-width="1.43" fill="none"/>
<path d="M967.5 142 Q969 148 972 148.7 M974.5 140 Q977 143 980.3 143" stroke="#1c1c1c" stroke-width="0.78" fill="none" stroke-linejoin="round" stroke-linecap="round" />
<circle cx="962.6" cy="174.8" r="7.6" stroke="#1c1c1c" stroke-width="1.17" fill="none"/>
<path d="M962 168 Q965 170.5 966 174 Q968 176.5 969.8 176.5" stroke="#1c1c1c" stroke-width="0.78" fill="none" stroke-linejoin="round" stroke-linecap="round" />
<circle cx="952.7" cy="204" r="7.6" stroke="#1c1c1c" stroke-width="1.17" fill="none"/>
<circle cx="945.7" cy="232.7" r="7.6" stroke="#1c1c1c" stroke-width="1.17" fill="none"/>
<circle cx="948.3" cy="230.3" r="2.2" stroke="#1c1c1c" stroke-width="0.91" fill="none"/>
<circle cx="942" cy="235.5" r="1.8" stroke="#1c1c1c" stroke-width="0.91" fill="none"/>
<line x1="895.2" y1="179.5" x2="937.5" y2="193" stroke="#1c1c1c" stroke-width="1.17" />
<line x1="893.5" y1="186" x2="935" y2="199.5" stroke="#1c1c1c" stroke-width="1.17" />
<path d="M887.3 174.7 L896.3 177.5 L893.3 187.5 L884.3 184.7 Z" stroke="#1c1c1c" stroke-width="1.17" fill="none" stroke-linejoin="round" stroke-linecap="round" />
<line x1="889.5" y1="175.5" x2="886.5" y2="185.4" stroke="#1c1c1c" stroke-width="0.78" />
<path d="M930.4 226.4 Q922 225.6 911 226.2 Q893 228.5 883 243 Q875.5 255 877 268 Q879 283 893 290 Q902 293.2 912 292.4 L916 293" stroke="#1c1c1c" stroke-width="1.23" fill="none" stroke-linejoin="round" stroke-linecap="round" />
<circle cx="893.9" cy="281.8" r="4.3" stroke="#1c1c1c" stroke-width="1.17" fill="none"/>
<path d="M909.5 258 L938 259.3 M909.5 275.6 L938 274.4 M909.5 258 Q906.5 266.8 909.5 275.6" stroke="#1c1c1c" stroke-width="1.17" fill="none" stroke-linejoin="round" stroke-linecap="round" />
<circle cx="938.4" cy="266.8" r="7.7" stroke="#1c1c1c" stroke-width="1.17" fill="none"/>
<circle cx="938.4" cy="266.8" r="5" stroke="#1c1c1c" stroke-width="1.56" fill="none"/>
<circle cx="938.4" cy="266.8" r="3.4" stroke="#1c1c1c" stroke-width="0.91" fill="none"/>
<path d="M904 257.6 L907 252.8 L925.5 252.8 L929.5 249.7" stroke="#1c1c1c" stroke-width="1.17" fill="none" stroke-linejoin="round" stroke-linecap="round" />
<path d="M904 257.6 L909.5 258 M907 252.8 L910.5 255.5 L925.5 255.5" stroke="#1c1c1c" stroke-width="0.78" fill="none" stroke-linejoin="round" stroke-linecap="round" />
<path d="M912.5 252.8 Q918 248.5 924 252.8" stroke="#1c1c1c" stroke-width="0.78" fill="none" stroke-linejoin="round" stroke-linecap="round" />
<path d="M904.8 277.2 L917.3 285.1 L922 278" stroke="#1c1c1c" stroke-width="1.10" fill="none" stroke-linejoin="round" stroke-linecap="round" />
<path d="M929.8 253.8 L929.8 259 M926 275.8 Q922.5 277 922 278 Q920.5 286 916.5 292.1" stroke="#1c1c1c" stroke-width="1.17" fill="none" stroke-linejoin="round" stroke-linecap="round" />
<path d="M935 200 L937.6 193" stroke="#1c1c1c" stroke-width="1.04" fill="none" stroke-linejoin="round" stroke-linecap="round" />
<circle cx="924.2" cy="303.7" r="6.2" stroke="#1c1c1c" stroke-width="1.69" fill="none"/>
<circle cx="924.2" cy="303.7" r="4.5" stroke="#1c1c1c" stroke-width="0.91" fill="none"/>
<path d="M903 302.5 L914 295 Q919.5 292.2 925.5 292.2 Q931 292.6 934 297 Q936.2 300.5 936 306 L935.6 311.8" stroke="#1c1c1c" stroke-width="1.17" fill="none" stroke-linejoin="round" stroke-linecap="round" />
<path d="M901.5 304.5 L913 296.6 Q918.5 293.7 925 293.7 Q929.8 294 932.6 297.8" stroke="#1c1c1c" stroke-width="0.78" fill="none" stroke-linejoin="round" stroke-linecap="round" />
<path d="M935.6 311.8 Q932 316.5 924 318.2 L915 319" stroke="#1c1c1c" stroke-width="1.17" fill="none" stroke-linejoin="round" stroke-linecap="round" />
<path d="M919 311.5 Q924 314.5 929 311.5" stroke="#1c1c1c" stroke-width="0.91" fill="none" stroke-linejoin="round" stroke-linecap="round" />
<path d="M942.4 297 Q942.4 295.3 945.1 295.3 Q947.9 295.3 947.9 297 L947.9 318.8 M942.4 297 L942.4 318.8" stroke="#1c1c1c" stroke-width="1.10" fill="none" stroke-linejoin="round" stroke-linecap="round" />
<rect x="938.5" y="305.4" width="13.3" height="2.4" rx="0.8" stroke="#1c1c1c" stroke-width="1.04" fill="none" />
<rect x="939.4" y="307.8" width="11.5" height="2.4" rx="0.8" stroke="#1c1c1c" stroke-width="1.04" fill="none" />
<rect x="940" y="318.8" width="8.7" height="4.7" rx="1.6" stroke="#1c1c1c" stroke-width="1.23" fill="none" />
<line x1="937" y1="304.5" x2="942" y2="297" stroke="#1c1c1c" stroke-width="0.91" />
<line x1="934.4" y1="312" x2="922" y2="377.7" stroke="#1c1c1c" stroke-width="0.91" />
<line x1="936" y1="312.3" x2="923.8" y2="378" stroke="#1c1c1c" stroke-width="0.91" />
<line x1="922" y1="377.7" x2="923.8" y2="378" stroke="#1c1c1c" stroke-width="0.91" />
<path d="M820.9 219 L820.9 317.8 M820.9 219 L826.5 219 Q827.5 219.5 828 222 L830.9 234.9 Q831.5 247 832.8 258 Q834.3 268 833.5 278 Q832.6 290 832.9 303.7" stroke="#1c1c1c" stroke-width="1.17" fill="none" stroke-linejoin="round" stroke-linecap="round" />
<line x1="823" y1="219" x2="825.4" y2="234.9" stroke="#1c1c1c" stroke-width="0.78" />
<line x1="820.9" y1="223" x2="828.5" y2="223" stroke="#1c1c1c" stroke-width="0.78" />
<line x1="820.9" y1="227" x2="829.3" y2="227" stroke="#1c1c1c" stroke-width="0.78" />
<line x1="820.9" y1="231" x2="830.1" y2="231" stroke="#1c1c1c" stroke-width="0.78" />
<line x1="820.9" y1="234.9" x2="831" y2="234.9" stroke="#1c1c1c" stroke-width="0.78" />
<line x1="820.9" y1="239.5" x2="831" y2="239.5" stroke="#1c1c1c" stroke-width="0.78" />
<line x1="820.9" y1="246.5" x2="831" y2="246.5" stroke="#1c1c1c" stroke-width="0.78" />
<line x1="820.9" y1="286.8" x2="833" y2="286.8" stroke="#1c1c1c" stroke-width="0.78" />
<line x1="820.9" y1="293.5" x2="833" y2="293.5" stroke="#1c1c1c" stroke-width="0.78" />
<line x1="820.9" y1="303.7" x2="833" y2="303.7" stroke="#1c1c1c" stroke-width="0.78" />
<rect x="815" y="235.3" width="5.9" height="8" rx="0.5" stroke="#1c1c1c" stroke-width="1.04" fill="none" />
<line x1="816.4" y1="235.3" x2="816.4" y2="243.3" stroke="#1c1c1c" stroke-width="0.65" />
<line x1="817.9" y1="235.3" x2="817.9" y2="243.3" stroke="#1c1c1c" stroke-width="0.65" />
<line x1="819.4" y1="235.3" x2="819.4" y2="243.3" stroke="#1c1c1c" stroke-width="0.65" />
<rect x="805" y="232.0" width="10" height="14.6" rx="1" stroke="#1c1c1c" stroke-width="1.17" fill="none" />
<line x1="805" y1="236.8" x2="815" y2="236.8" stroke="#1c1c1c" stroke-width="0.78" />
<line x1="805" y1="241.8" x2="815" y2="241.8" stroke="#1c1c1c" stroke-width="0.78" />
<rect x="800" y="235.0" width="5" height="8.6" rx="1" stroke="#1c1c1c" stroke-width="1.17" fill="none" />
<rect x="815" y="290.3" width="5.9" height="8" rx="0.5" stroke="#1c1c1c" stroke-width="1.04" fill="none" />
<line x1="816.4" y1="290.3" x2="816.4" y2="298.3" stroke="#1c1c1c" stroke-width="0.65" />
<line x1="817.9" y1="290.3" x2="817.9" y2="298.3" stroke="#1c1c1c" stroke-width="0.65" />
<line x1="819.4" y1="290.3" x2="819.4" y2="298.3" stroke="#1c1c1c" stroke-width="0.65" />
<rect x="805" y="287.0" width="10" height="14.6" rx="1" stroke="#1c1c1c" stroke-width="1.17" fill="none" />
<line x1="805" y1="291.8" x2="815" y2="291.8" stroke="#1c1c1c" stroke-width="0.78" />
<line x1="805" y1="296.8" x2="815" y2="296.8" stroke="#1c1c1c" stroke-width="0.78" />
<rect x="800" y="290.0" width="5" height="8.6" rx="1" stroke="#1c1c1c" stroke-width="1.17" fill="none" />
<path d="M842 268.5 Q843.5 266 847.5 266.6 L873.5 290 Q875.5 292 875 296 L874.3 298.3 Q873.6 300 871 300 L842.5 300 Q840 299.6 840 297 Z" stroke="#1c1c1c" stroke-width="1.04" fill="none" stroke-linejoin="round" stroke-linecap="round" />
<path d="M843.6 270.2 L871 294" stroke="#1c1c1c" stroke-width="0.78" fill="none" stroke-linejoin="round" stroke-linecap="round" />
<path d="M830.9 234.9 C832.9 237.4 838.9 244.8 843.0 250.0 C847.1 255.2 851.8 261.5 855.8 265.8 C859.8 270.1 863.3 273.0 867.0 276.0 C870.7 279.0 874.6 281.9 877.8 283.8 C881.0 285.7 883.4 286.5 886.0 287.5 C888.6 288.5 890.9 289.1 893.7 289.7 C896.5 290.3 901.5 290.8 903.0 291.0" stroke="#1c1c1c" stroke-width="1.04" fill="none" stroke-linejoin="round" stroke-linecap="round" />
<path d="M831.5 238.0 C833.2 240.2 838.1 246.7 842.0 251.5 C845.9 256.3 850.6 262.7 854.6 267.0 C858.6 271.3 862.3 274.4 866.0 277.5 C869.7 280.6 873.6 283.5 876.8 285.4 C880.0 287.3 882.3 288.0 885.0 289.0 C887.7 290.0 890.3 290.7 893.0 291.3 C895.7 291.9 899.0 292.1 901.0 292.6 C903.0 293.1 904.3 294.2 905.0 294.5" stroke="#1c1c1c" stroke-width="0.91" fill="none" stroke-linejoin="round" stroke-linecap="round" />
<line x1="840.9" y1="249.8" x2="840.9" y2="303.7" stroke="#1c1c1c" stroke-width="0.91" />
<line x1="842.8" y1="252" x2="842.8" y2="303.7" stroke="#1c1c1c" stroke-width="0.78" />
<line x1="880.7" y1="285.8" x2="880.7" y2="303.7" stroke="#1c1c1c" stroke-width="0.91" />
<line x1="884.7" y1="288.2" x2="884.7" y2="303.7" stroke="#1c1c1c" stroke-width="0.91" />
<line x1="895.5" y1="292" x2="895.5" y2="303.7" stroke="#1c1c1c" stroke-width="0.78" />
<line x1="832.9" y1="303.7" x2="903" y2="303.7" stroke="#1c1c1c" stroke-width="1.17" />
<line x1="836" y1="306" x2="897" y2="306" stroke="#1c1c1c" stroke-width="0.78" />
<path d="M832.9 303.7 Q834 307.5 838 308.7 L866.8 308.7" stroke="#1c1c1c" stroke-width="1.04" fill="none" stroke-linejoin="round" stroke-linecap="round" />
<line x1="866.8" y1="308.7" x2="897" y2="308.7" stroke="#1c1c1c" stroke-width="1.04" />
<line x1="897" y1="308.7" x2="903" y2="304.5" stroke="#1c1c1c" stroke-width="1.04" />
<line x1="820.9" y1="308.7" x2="838" y2="308.7" stroke="#1c1c1c" stroke-width="1.04" />
<path d="M820.9 317.8 Q821 319 822.5 319 L915 319" stroke="#1c1c1c" stroke-width="1.17" fill="none" stroke-linejoin="round" stroke-linecap="round" />
<line x1="866.8" y1="308.7" x2="866.8" y2="319" stroke="#1c1c1c" stroke-width="0.91" />
<line x1="873.8" y1="308.7" x2="873.8" y2="319" stroke="#1c1c1c" stroke-width="1.30" />
<line x1="875.6" y1="308.7" x2="875.6" y2="319" stroke="#1c1c1c" stroke-width="0.91" />
<line x1="880.7" y1="308.7" x2="880.7" y2="319" stroke="#1c1c1c" stroke-width="0.91" />
<line x1="881" y1="310.5" x2="930" y2="310.5" stroke="#1c1c1c" stroke-width="0.78" />
<rect x="832.9" y="319.5" width="18" height="2" rx="0.8" stroke="#1c1c1c" stroke-width="0.91" fill="#1c1c1c" />
<rect x="888.7" y="319.5" width="17" height="2" rx="0.8" stroke="#1c1c1c" stroke-width="0.91" fill="#1c1c1c" />
<rect x="496" y="433.2" width="8" height="6" rx="0.8" stroke="#1c1c1c" stroke-width="1.04" fill="none" />
<rect x="493" y="439" width="14" height="8" rx="0.8" stroke="#1c1c1c" stroke-width="1.17" fill="none" />
<line x1="497.4" y1="439" x2="497.4" y2="447" stroke="#1c1c1c" stroke-width="0.78" />
<line x1="502.6" y1="439" x2="502.6" y2="447" stroke="#1c1c1c" stroke-width="0.78" />
<path d="M496 447 L496 449.5 L497 454.5 M504 447 L504 449.5 L503 454.5" stroke="#1c1c1c" stroke-width="1.04" fill="none" stroke-linejoin="round" stroke-linecap="round" />
<line x1="496" y1="449.5" x2="504" y2="449.5" stroke="#1c1c1c" stroke-width="0.78" />
<line x1="496.8" y1="452" x2="503.2" y2="452" stroke="#1c1c1c" stroke-width="0.65" />
<rect x="557" y="433.2" width="8" height="6" rx="0.8" stroke="#1c1c1c" stroke-width="1.04" fill="none" />
<rect x="554" y="439" width="14" height="8" rx="0.8" stroke="#1c1c1c" stroke-width="1.17" fill="none" />
<line x1="558.4" y1="439" x2="558.4" y2="447" stroke="#1c1c1c" stroke-width="0.78" />
<line x1="563.6" y1="439" x2="563.6" y2="447" stroke="#1c1c1c" stroke-width="0.78" />
<path d="M557 447 L557 449.5 L558 454.5 M565 447 L565 449.5 L564 454.5" stroke="#1c1c1c" stroke-width="1.04" fill="none" stroke-linejoin="round" stroke-linecap="round" />
<line x1="557" y1="449.5" x2="565" y2="449.5" stroke="#1c1c1c" stroke-width="0.78" />
<line x1="557.8" y1="452" x2="564.2" y2="452" stroke="#1c1c1c" stroke-width="0.65" />
<rect x="644" y="433.2" width="8" height="6" rx="0.8" stroke="#1c1c1c" stroke-width="1.04" fill="none" />
<rect x="641" y="439" width="14" height="8" rx="0.8" stroke="#1c1c1c" stroke-width="1.17" fill="none" />
<line x1="645.4" y1="439" x2="645.4" y2="447" stroke="#1c1c1c" stroke-width="0.78" />
<line x1="650.6" y1="439" x2="650.6" y2="447" stroke="#1c1c1c" stroke-width="0.78" />
<path d="M644 447 L644 449.5 L645 454.5 M652 447 L652 449.5 L651 454.5" stroke="#1c1c1c" stroke-width="1.04" fill="none" stroke-linejoin="round" stroke-linecap="round" />
<line x1="644" y1="449.5" x2="652" y2="449.5" stroke="#1c1c1c" stroke-width="0.78" />
<line x1="644.8" y1="452" x2="651.2" y2="452" stroke="#1c1c1c" stroke-width="0.65" />
<path d="M485.9 454.9 L570.9 454.9 Q573 455.3 574 458.5 Q575.5 463.5 580 463.9 L609.8 463.9 Q614 463.3 615.6 458.5 Q616.3 455.3 618.5 454.9 L660.7 454.9 L660.7 500.5 Q661 504 664 507.5 Q667.6 511 667.7 514 L667.7 551" stroke="#1c1c1c" stroke-width="1.30" fill="none" stroke-linejoin="round" stroke-linecap="round" />
<path d="M485.9 454.9 L469.9 472.9 L469.9 517.5 L457.6 525.5 L457.6 569.8" stroke="#1c1c1c" stroke-width="1.30" fill="none" stroke-linejoin="round" stroke-linecap="round" />
<path d="M486.6 456.4 L570 456.4 Q572 457 572.8 459.5 Q574.5 465 580 465.4 L609.8 465.4 Q615.2 465 616.8 459.5 Q617.5 457 619.5 456.4 L659.2 456.4 L659.2 501 Q659.6 505 662.6 508.3 Q666.1 511.6 666.2 514.4 L666.2 540" stroke="#1c1c1c" stroke-width="0.65" fill="none" stroke-linejoin="round" stroke-linecap="round" />
<path d="M486.6 456.4 L471.4 473.5 L471.4 518.3 L459.1 526.3 L459.1 545" stroke="#1c1c1c" stroke-width="0.65" fill="none" stroke-linejoin="round" stroke-linecap="round" />
<circle cx="486.5" cy="476.3" r="8.7" stroke="#1c1c1c" stroke-width="1.95" fill="none"/>
<circle cx="486.5" cy="476.3" r="4.5" stroke="#1c1c1c" stroke-width="0.91" fill="none"/>
<line x1="483.5" y1="476.3" x2="489.5" y2="476.3" stroke="#1c1c1c" stroke-width="0.65" />
<line x1="486.5" y1="473.3" x2="486.5" y2="479.3" stroke="#1c1c1c" stroke-width="0.65" />
<circle cx="574.6" cy="476.3" r="8.7" stroke="#1c1c1c" stroke-width="1.95" fill="none"/>
<circle cx="574.6" cy="476.3" r="4.5" stroke="#1c1c1c" stroke-width="0.91" fill="none"/>
<line x1="571.6" y1="476.3" x2="577.6" y2="476.3" stroke="#1c1c1c" stroke-width="0.65" />
<line x1="574.6" y1="473.3" x2="574.6" y2="479.3" stroke="#1c1c1c" stroke-width="0.65" />
<circle cx="635.8" cy="476.3" r="8.7" stroke="#1c1c1c" stroke-width="1.95" fill="none"/>
<circle cx="635.8" cy="476.3" r="4.5" stroke="#1c1c1c" stroke-width="0.91" fill="none"/>
<line x1="632.8" y1="476.3" x2="638.8" y2="476.3" stroke="#1c1c1c" stroke-width="0.65" />
<line x1="635.8" y1="473.3" x2="635.8" y2="479.3" stroke="#1c1c1c" stroke-width="0.65" />
<circle cx="486.5" cy="530.8" r="8.7" stroke="#1c1c1c" stroke-width="1.95" fill="none"/>
<circle cx="486.5" cy="530.8" r="4.5" stroke="#1c1c1c" stroke-width="0.91" fill="none"/>
<line x1="483.5" y1="530.8" x2="489.5" y2="530.8" stroke="#1c1c1c" stroke-width="0.65" />
<line x1="486.5" y1="527.8" x2="486.5" y2="533.8" stroke="#1c1c1c" stroke-width="0.65" />
<circle cx="574.6" cy="530.8" r="8.7" stroke="#1c1c1c" stroke-width="1.95" fill="none"/>
<circle cx="574.6" cy="530.8" r="4.5" stroke="#1c1c1c" stroke-width="0.91" fill="none"/>
<line x1="571.6" y1="530.8" x2="577.6" y2="530.8" stroke="#1c1c1c" stroke-width="0.65" />
<line x1="574.6" y1="527.8" x2="574.6" y2="533.8" stroke="#1c1c1c" stroke-width="0.65" />
<circle cx="606.4" cy="530.8" r="8.7" stroke="#1c1c1c" stroke-width="1.95" fill="none"/>
<circle cx="606.4" cy="530.8" r="4.5" stroke="#1c1c1c" stroke-width="0.91" fill="none"/>
<line x1="603.4" y1="530.8" x2="609.4" y2="530.8" stroke="#1c1c1c" stroke-width="0.65" />
<line x1="606.4" y1="527.8" x2="606.4" y2="533.8" stroke="#1c1c1c" stroke-width="0.65" />
<circle cx="475.1" cy="488.3" r="4.4" stroke="#1c1c1c" stroke-width="1.04" fill="none"/>
<circle cx="475.1" cy="488.3" r="2.9" stroke="#1c1c1c" stroke-width="0.78" fill="none"/>
<circle cx="475.1" cy="504.3" r="4.4" stroke="#1c1c1c" stroke-width="1.04" fill="none"/>
<circle cx="475.1" cy="504.3" r="2.9" stroke="#1c1c1c" stroke-width="0.78" fill="none"/>
<circle cx="475.1" cy="519.4" r="4.4" stroke="#1c1c1c" stroke-width="1.04" fill="none"/>
<circle cx="475.1" cy="519.4" r="2.9" stroke="#1c1c1c" stroke-width="0.78" fill="none"/>
<path d="M503 471.9 L518 471.9 Q525.4 471.9 525.4 479.3 L525.4 514.5 Q525.4 522.7 517.2 522.7 L497.5 522.7 Q494 522.2 491.5 520.7 Q483.5 519.5 481.6 513.8 L481.6 491.5 Q482 488.3 485 487 Q492 486 496.4 481 Q498.5 477.5 499 475 Q499.8 472.3 503 471.9 Z" stroke="#1c1c1c" stroke-width="1.23" fill="none" stroke-linejoin="round" stroke-linecap="round" />
<path d="M503 471.9 L518 471.9 Q525.4 471.9 525.4 479.3 L525.4 514.5 Q525.4 522.7 517.2 522.7 L497.5 522.7 Q494 522.2 491.5 520.7 Q483.5 519.5 481.6 513.8 L481.6 491.5 Q482 488.3 485 487 Q492 486 496.4 481 Q498.5 477.5 499 475 Q499.8 472.3 503 471.9 Z" stroke="#1c1c1c" stroke-width="0.5" fill="none" transform="translate(503.5 497.3) scale(0.93 0.94) translate(-503.5 -497.3)"/>
<path d="M543.7 471.9 L558 471.9 Q561.5 472.3 562 475.5 Q563 482 569.7 487.5 L569.7 513.5 Q567 516 564.5 519.5 Q562.5 522.3 559 522.7 L543.7 522.7 Q536.3 522.7 536.3 515.3 L536.3 479.3 Q536.3 471.9 543.7 471.9 Z" stroke="#1c1c1c" stroke-width="1.23" fill="none" stroke-linejoin="round" stroke-linecap="round" />
<path d="M543.7 471.9 L558 471.9 Q561.5 472.3 562 475.5 Q563 482 569.7 487.5 L569.7 513.5 Q567 516 564.5 519.5 Q562.5 522.3 559 522.7 L543.7 522.7 Q536.3 522.7 536.3 515.3 L536.3 479.3 Q536.3 471.9 543.7 471.9 Z" stroke="#1c1c1c" stroke-width="0.5" fill="none" transform="translate(553 497.3) scale(0.92 0.94) translate(-553 -497.3)"/>
<path d="M591.5 471.9 L609.4 471.9 Q616.8 471.9 616.8 479.3 L616.8 514.8 Q616.8 522.2 609.4 522.2 L592 522.2 Q588 522 586 519.5 Q583.5 516 579.2 513.5 L579.2 490 Q585.5 484.5 587 476 Q587.8 472.3 591.5 471.9 Z" stroke="#1c1c1c" stroke-width="1.23" fill="none" stroke-linejoin="round" stroke-linecap="round" />
<path d="M591.5 471.9 L609.4 471.9 Q616.8 471.9 616.8 479.3 L616.8 514.8 Q616.8 522.2 609.4 522.2 L592 522.2 Q588 522 586 519.5 Q583.5 516 579.2 513.5 L579.2 490 Q585.5 484.5 587 476 Q587.8 472.3 591.5 471.9 Z" stroke="#1c1c1c" stroke-width="0.5" fill="none" transform="translate(598 497) scale(0.92 0.94) translate(-598 -497)"/>
<path d="M632.5 487.8 L646.5 487.8 Q652.7 487.8 652.7 494 L652.7 503 Q652.9 506.5 655.5 508.5 Q658.6 511 658.4 515 Q658 520 653 522.3 Q651 523.3 648 523.3 L633.5 523.3 Q630 523 628 520 Q625.8 517 625.8 513 L625.8 494.5 Q625.8 487.8 632.5 487.8 Z" stroke="#1c1c1c" stroke-width="1.23" fill="none" stroke-linejoin="round" stroke-linecap="round" />
<path d="M632.5 487.8 L646.5 487.8 Q652.7 487.8 652.7 494 L652.7 503 Q652.9 506.5 655.5 508.5 Q658.6 511 658.4 515 Q658 520 653 522.3 Q651 523.3 648 523.3 L633.5 523.3 Q630 523 628 520 Q625.8 517 625.8 513 L625.8 494.5 Q625.8 487.8 632.5 487.8 Z" stroke="#1c1c1c" stroke-width="0.5" fill="none" transform="translate(641 505.5) scale(0.9 0.91) translate(-641 -505.5)"/>
<ellipse cx="646.8" cy="520.6" rx="3.2" ry="1.3" stroke="#1c1c1c" stroke-width="0.78" fill="none" transform="rotate(0 646.8 520.6)"/>
<path d="M472.8 550 Q472.8 541 479 540 L512 539.4 Q517 540 518.7 546 M518.7 546 L518.7 536.5 Q519 533.5 521.5 530.5 L528.5 520.5 Q530.7 517.5 533 520.5 L540 530.5 Q542.6 533.5 542.7 536.5 L542.7 546 M542.7 546 Q544.5 540 549.5 539.6 L619.8 539.6 Q626.5 541 627.8 548 L627.8 569.8" stroke="#1c1c1c" stroke-width="1.23" fill="none" stroke-linejoin="round" stroke-linecap="round" />
<path d="M520.3 546 L520.3 537 Q520.6 534.3 522.8 531.5 L529.4 522.3 Q530.7 520.7 532 522.3 L538.7 531.5 Q541 534.3 541.1 537 L541.1 546" stroke="#1c1c1c" stroke-width="0.65" fill="none" stroke-linejoin="round" stroke-linecap="round" />
<path d="M479 541.6 L512 541 M549.5 541.2 L619.5 541.2 Q625 542.3 626.2 548.5 L626.2 560" stroke="#1c1c1c" stroke-width="0.65" fill="none" stroke-linejoin="round" stroke-linecap="round" />
<line x1="431.5" y1="510.4" x2="431.5" y2="615" stroke="#1c1c1c" stroke-width="1.04" />
<line x1="434.3" y1="510.4" x2="434.3" y2="615" stroke="#1c1c1c" stroke-width="1.04" />
<line x1="450.9" y1="510.4" x2="450.9" y2="615" stroke="#1c1c1c" stroke-width="1.04" />
<line x1="453.9" y1="510.4" x2="453.9" y2="615" stroke="#1c1c1c" stroke-width="1.04" />
<line x1="431.5" y1="510.4" x2="434.3" y2="510.4" stroke="#1c1c1c" stroke-width="0.91" />
<line x1="450.9" y1="510.4" x2="453.9" y2="510.4" stroke="#1c1c1c" stroke-width="0.91" />
<circle cx="442.5" cy="516.1" r="3.4" stroke="#1c1c1c" stroke-width="1.30" fill="none"/>
<circle cx="442.5" cy="516.1" r="1.9" stroke="#1c1c1c" stroke-width="0.91" fill="none"/>
<path d="M439.4 519.5 L445.8 519.5 L447.1 521.4 L447.1 524.8 L445.2 527.6 L440 527.6 L438.3 524.8 L438.3 521.4 Z" stroke="#1c1c1c" stroke-width="1.17" fill="none" stroke-linejoin="round" stroke-linecap="round" />
<line x1="438.3" y1="523" x2="447.1" y2="523" stroke="#1c1c1c" stroke-width="0.78" />
<line x1="434.3" y1="532.2" x2="450.9" y2="532.2" stroke="#1c1c1c" stroke-width="0.78" />
<path d="M441 532.2 L442.6 534.6 L444.2 532.2" stroke="#1c1c1c" stroke-width="0.78" fill="none" stroke-linejoin="round" stroke-linecap="round" />
<rect x="423.6" y="550" width="7.3" height="15.8" rx="0.8" stroke="#1c1c1c" stroke-width="1.17" fill="none" />
<line x1="423.6" y1="554.5" x2="430.9" y2="554.5" stroke="#1c1c1c" stroke-width="0.78" />
<line x1="423.6" y1="561.3" x2="430.9" y2="561.3" stroke="#1c1c1c" stroke-width="0.78" />
<rect x="430.9" y="548.8" width="1.8" height="18.2" rx="0.6" stroke="#1c1c1c" stroke-width="1.04" fill="none" />
<path d="M437.8 569.5 L437.8 549 Q438 546.2 441 546 L448 546 Q450.8 546.2 450.9 549 L450.9 569.5" stroke="#1c1c1c" stroke-width="1.04" fill="none" stroke-linejoin="round" stroke-linecap="round" />
<line x1="439" y1="547.5" x2="440.6" y2="569" stroke="#1c1c1c" stroke-width="0.78" />
<line x1="441" y1="547.5" x2="442.6" y2="569" stroke="#1c1c1c" stroke-width="0.78" />
<line x1="443" y1="547.5" x2="444.6" y2="569" stroke="#1c1c1c" stroke-width="0.78" />
<line x1="445" y1="547.5" x2="446.6" y2="569" stroke="#1c1c1c" stroke-width="0.78" />
<line x1="447" y1="547.5" x2="448.6" y2="569" stroke="#1c1c1c" stroke-width="0.78" />
<line x1="449" y1="547.5" x2="450.6" y2="569" stroke="#1c1c1c" stroke-width="0.78" />
<rect x="434.6" y="549" width="3" height="19" rx="0.4" stroke="#1c1c1c" stroke-width="0.91" fill="none" />
<line x1="434.3" y1="569.8" x2="450.9" y2="569.8" stroke="#1c1c1c" stroke-width="1.04" />
<path d="M432.3 569.8 L453 569.8 L444.8 583 Q442.7 585 440.6 583 Z" stroke="#1c1c1c" stroke-width="1.17" fill="none" stroke-linejoin="round" stroke-linecap="round" />
<circle cx="442.6" cy="577.6" r="4.3" stroke="#1c1c1c" stroke-width="1.17" fill="none"/>
<circle cx="442.6" cy="577.6" r="2.5" stroke="#1c1c1c" stroke-width="1.69" fill="none"/>
<line x1="434.3" y1="601.7" x2="450.9" y2="601.7" stroke="#1c1c1c" stroke-width="0.78" />
<line x1="434.3" y1="611.7" x2="450.9" y2="611.7" stroke="#1c1c1c" stroke-width="0.78" />
<rect x="340" y="599.7" width="91.5" height="11" rx="0.8" stroke="#1c1c1c" stroke-width="1.17" fill="none" />
<path d="M453.9 599.8 L456 599.8 Q457.6 604.7 456 609.6 L453.9 609.6" stroke="#1c1c1c" stroke-width="1.04" fill="none" stroke-linejoin="round" stroke-linecap="round" />
<rect x="423.6" y="615.5" width="37.8" height="17.7" rx="1.6" stroke="#1c1c1c" stroke-width="1.17" fill="none" />
<line x1="423.6" y1="620.5" x2="461.4" y2="620.5" stroke="#1c1c1c" stroke-width="0.78" />
<rect x="457.6" y="553.8" width="15.2" height="17" rx="0.6" stroke="#1c1c1c" stroke-width="1.17" fill="none" />
<rect x="472.8" y="550.8" width="6" height="15.3" rx="0.8" stroke="#1c1c1c" stroke-width="1.17" fill="none" />
<line x1="472.8" y1="558" x2="478.8" y2="558" stroke="#1c1c1c" stroke-width="0.78" />
<rect x="453.9" y="548.6" width="2.9" height="18.2" rx="0.5" stroke="#1c1c1c" stroke-width="1.04" fill="none" />
<path d="M473.2 550.5 L473.2 546 Q473.8 541 479 540.5" stroke="#1c1c1c" stroke-width="1.04" fill="none" stroke-linejoin="round" stroke-linecap="round" />
<path d="M489.8 542 L489.8 581.8 L510.7 581.8 M489.8 542 L505 541.5 Q510.2 543 510.9 549 L510.9 581.8" stroke="#1c1c1c" stroke-width="1.17" fill="none" stroke-linejoin="round" stroke-linecap="round" />
<line x1="489.8" y1="582.2" x2="512.7" y2="582.2" stroke="#1c1c1c" stroke-width="1.69" />
<circle cx="499.3" cy="569.3" r="6.3" stroke="#1c1c1c" stroke-width="1.30" fill="none"/>
<rect x="481.3" y="563.6" width="7.6" height="13" rx="0.8" stroke="#1c1c1c" stroke-width="1.17" fill="none" />
<rect x="477.8" y="565.4" width="3.5" height="9.4" rx="0.8" stroke="#1c1c1c" stroke-width="1.04" fill="none" />
<line x1="481.3" y1="570" x2="488.9" y2="570" stroke="#1c1c1c" stroke-width="0.78" />
<rect x="507.7" y="551.5" width="2.4" height="12" rx="0.6" stroke="#1c1c1c" stroke-width="1.04" fill="none" />
<line x1="511" y1="556" x2="519.3" y2="556" stroke="#1c1c1c" stroke-width="1.04" />
<line x1="511" y1="566" x2="519.3" y2="566" stroke="#1c1c1c" stroke-width="1.04" />
<line x1="519.3" y1="546" x2="519.3" y2="579.8" stroke="#1c1c1c" stroke-width="1.04" />
<line x1="522.1" y1="546" x2="522.1" y2="579.8" stroke="#1c1c1c" stroke-width="1.04" />
<line x1="539.2" y1="546" x2="539.2" y2="579.8" stroke="#1c1c1c" stroke-width="1.04" />
<line x1="542" y1="546" x2="542" y2="579.8" stroke="#1c1c1c" stroke-width="1.04" />
<line x1="522.1" y1="550" x2="539.2" y2="550" stroke="#1c1c1c" stroke-width="1.04" />
<line x1="522.1" y1="569.8" x2="539.2" y2="569.8" stroke="#1c1c1c" stroke-width="1.04" />
<line x1="512.7" y1="576.8" x2="512.7" y2="588.8" stroke="#1c1c1c" stroke-width="1.69" />
<path d="M517.8000000000001 579.8 L517.8000000000001 611 Q517.2 615 512.1 617.5 L512.1 631.5 Q512.1 633.2 513.7 633.2 L547.7 633.2 Q549.3000000000001 633.2 549.3000000000001 631.5 L549.3000000000001 617.5 Q544.2 615 543.6 611 L543.6 579.8" stroke="#1c1c1c" stroke-width="1.17" fill="none" stroke-linejoin="round" stroke-linecap="round" />
<line x1="520.1" y1="579.8" x2="520.1" y2="615" stroke="#1c1c1c" stroke-width="0.78" />
<line x1="541.3000000000001" y1="579.8" x2="541.3000000000001" y2="615" stroke="#1c1c1c" stroke-width="0.78" />
<line x1="512.1" y1="620.5" x2="549.3000000000001" y2="620.5" stroke="#1c1c1c" stroke-width="0.78" />
<line x1="517.8000000000001" y1="579.8" x2="543.6" y2="579.8" stroke="#1c1c1c" stroke-width="1.17" />
<ellipse cx="530.7" cy="585.6" rx="4.9" ry="2.2" stroke="#1c1c1c" stroke-width="1.04" fill="none" transform="rotate(0 530.7 585.6)"/>
<ellipse cx="530.7" cy="602.4" rx="4.6" ry="1.9" stroke="#1c1c1c" stroke-width="1.04" fill="none" transform="rotate(0 530.7 602.4)"/>
<ellipse cx="530.7" cy="610.6" rx="4.9" ry="2.1" stroke="#1c1c1c" stroke-width="1.04" fill="none" transform="rotate(0 530.7 610.6)"/>
<line x1="517.8000000000001" y1="591.6" x2="543.6" y2="591.6" stroke="#1c1c1c" stroke-width="0.78" />
<line x1="517.8000000000001" y1="598.2" x2="543.6" y2="598.2" stroke="#1c1c1c" stroke-width="0.78" />
<line x1="525.7" y1="593.4" x2="535.7" y2="593.4" stroke="#1c1c1c" stroke-width="1.43" />
<line x1="525.7" y1="595" x2="535.7" y2="595" stroke="#1c1c1c" stroke-width="1.43" />
<line x1="525.7" y1="596.6" x2="535.7" y2="596.6" stroke="#1c1c1c" stroke-width="1.43" />
<line x1="517.8000000000001" y1="594.9" x2="524.7" y2="594.9" stroke="#1c1c1c" stroke-width="0.78" />
<line x1="536.7" y1="594.9" x2="543.6" y2="594.9" stroke="#1c1c1c" stroke-width="0.78" />
<line x1="542" y1="556" x2="551" y2="556" stroke="#1c1c1c" stroke-width="1.04" />
<line x1="542" y1="566" x2="551" y2="566" stroke="#1c1c1c" stroke-width="1.04" />
<rect x="549.6" y="551.5" width="2.4" height="12" rx="0.6" stroke="#1c1c1c" stroke-width="1.04" fill="none" />
<path d="M551 546 L551 581.8 L571.9 581.8 L571.9 541" stroke="#1c1c1c" stroke-width="1.17" fill="none" stroke-linejoin="round" stroke-linecap="round" />
<line x1="551" y1="582.4" x2="571.9" y2="582.4" stroke="#1c1c1c" stroke-width="1.69" />
<line x1="548.6" y1="571.8" x2="548.6" y2="588.8" stroke="#1c1c1c" stroke-width="1.69" />
<circle cx="560.9" cy="569.3" r="6.3" stroke="#1c1c1c" stroke-width="1.30" fill="none"/>
<rect x="571.9" y="565.7" width="25" height="8.3" rx="0.8" stroke="#1c1c1c" stroke-width="1.17" fill="none" />
<line x1="571.9" y1="541" x2="571.9" y2="565" stroke="#1c1c1c" stroke-width="0.78" />
<path d="M634.5 548 Q634.5 538 641 534 Q647.7 530.5 654.5 534 Q661 538 661 548" stroke="#1c1c1c" stroke-width="1.17" fill="none" stroke-linejoin="round" stroke-linecap="round" />
<path d="M637.5 546 Q638 540 642.5 536.8 Q647.7 534 653 536.8 Q657.5 540 658 546" stroke="#1c1c1c" stroke-width="1.04" fill="none" stroke-linejoin="round" stroke-linecap="round" />
<path d="M641.5 535 L643.5 539.5 L652 539.5 L654 535" stroke="#1c1c1c" stroke-width="0.78" fill="none" stroke-linejoin="round" stroke-linecap="round" />
<line x1="636.7" y1="545" x2="636.7" y2="577.8" stroke="#1c1c1c" stroke-width="1.04" />
<line x1="639.7" y1="545" x2="639.7" y2="577.8" stroke="#1c1c1c" stroke-width="1.04" />
<line x1="656.7" y1="545" x2="656.7" y2="577.8" stroke="#1c1c1c" stroke-width="1.04" />
<line x1="659.7" y1="545" x2="659.7" y2="577.8" stroke="#1c1c1c" stroke-width="1.04" />
<path d="M636.7 545 Q638.2 541 639.7 545 M656.7 545 Q658.2 541 659.7 545" stroke="#1c1c1c" stroke-width="0.91" fill="none" stroke-linejoin="round" stroke-linecap="round" />
<line x1="639.7" y1="548.5" x2="656.7" y2="548.5" stroke="#1c1c1c" stroke-width="1.04" />
<line x1="639.7" y1="565.8" x2="656.7" y2="565.8" stroke="#1c1c1c" stroke-width="1.04" />
<rect x="624.8" y="550.9" width="3.6" height="13" rx="1" stroke="#1c1c1c" stroke-width="1.17" fill="none" />
<rect x="668.4" y="550.9" width="3.2" height="13" rx="1" stroke="#1c1c1c" stroke-width="1.17" fill="none" />
<line x1="628.4" y1="556" x2="636.7" y2="556" stroke="#1c1c1c" stroke-width="1.04" />
<line x1="628.4" y1="566" x2="636.7" y2="566" stroke="#1c1c1c" stroke-width="1.04" />
<line x1="659.7" y1="556" x2="668.4" y2="556" stroke="#1c1c1c" stroke-width="1.04" />
<line x1="659.7" y1="566" x2="668.4" y2="566" stroke="#1c1c1c" stroke-width="1.04" />
<rect x="630.6" y="569.8" width="6" height="8" rx="0.5" stroke="#1c1c1c" stroke-width="1.04" fill="#1c1c1c" />
<rect x="659.8" y="569.8" width="6.2" height="8" rx="0.5" stroke="#1c1c1c" stroke-width="1.04" fill="#1c1c1c" />
<rect x="632.6" y="571" width="3.6" height="6.8" fill="#fff"/>
<rect x="660.2" y="571" width="3.6" height="6.8" fill="#fff"/>
<path d="M635.3000000000001 577.8 L635.3000000000001 611 Q634.7 615 629.6 617.5 L629.6 631.5 Q629.6 633.2 631.2 633.2 L665.2 633.2 Q666.8000000000001 633.2 666.8000000000001 631.5 L666.8000000000001 617.5 Q661.7 615 661.1 611 L661.1 577.8" stroke="#1c1c1c" stroke-width="1.17" fill="none" stroke-linejoin="round" stroke-linecap="round" />
<line x1="637.6" y1="577.8" x2="637.6" y2="615" stroke="#1c1c1c" stroke-width="0.78" />
<line x1="658.8000000000001" y1="577.8" x2="658.8000000000001" y2="615" stroke="#1c1c1c" stroke-width="0.78" />
<line x1="629.6" y1="620.5" x2="666.8000000000001" y2="620.5" stroke="#1c1c1c" stroke-width="0.78" />
<line x1="635.3000000000001" y1="577.8" x2="661.1" y2="577.8" stroke="#1c1c1c" stroke-width="1.17" />
<ellipse cx="648.2" cy="585.6" rx="4.9" ry="2.2" stroke="#1c1c1c" stroke-width="1.04" fill="none" transform="rotate(0 648.2 585.6)"/>
<ellipse cx="648.2" cy="602.4" rx="4.6" ry="1.9" stroke="#1c1c1c" stroke-width="1.04" fill="none" transform="rotate(0 648.2 602.4)"/>
<ellipse cx="648.2" cy="610.6" rx="4.9" ry="2.1" stroke="#1c1c1c" stroke-width="1.04" fill="none" transform="rotate(0 648.2 610.6)"/>
<line x1="635.3000000000001" y1="591.6" x2="661.1" y2="591.6" stroke="#1c1c1c" stroke-width="0.78" />
<line x1="635.3000000000001" y1="598.2" x2="661.1" y2="598.2" stroke="#1c1c1c" stroke-width="0.78" />
<line x1="643.2" y1="593.4" x2="653.2" y2="593.4" stroke="#1c1c1c" stroke-width="1.43" />
<line x1="643.2" y1="595" x2="653.2" y2="595" stroke="#1c1c1c" stroke-width="1.43" />
<line x1="643.2" y1="596.6" x2="653.2" y2="596.6" stroke="#1c1c1c" stroke-width="1.43" />
<line x1="635.3000000000001" y1="594.9" x2="642.2" y2="594.9" stroke="#1c1c1c" stroke-width="0.78" />
<line x1="654.2" y1="594.9" x2="661.1" y2="594.9" stroke="#1c1c1c" stroke-width="0.78" />
<g opacity="0.999">
<line x1="423.75" y1="1" x2="423.75" y2="53" stroke="#1c1c1c" stroke-width="0.98" />
<line x1="666.75" y1="1" x2="666.75" y2="53" stroke="#1c1c1c" stroke-width="0.98" />
<line x1="423.75" y1="5.5" x2="519" y2="5.5" stroke="#1c1c1c" stroke-width="0.98" />
<line x1="575" y1="5.5" x2="666.75" y2="5.5" stroke="#1c1c1c" stroke-width="0.98" />
<path d="M423.75 5.50 L433.25 3.95 L433.25 7.05 Z" fill="#1c1c1c" stroke="none"/>
<path d="M666.75 5.50 L657.25 7.05 L657.25 3.95 Z" fill="#1c1c1c" stroke="none"/>
<text transform="translate(546.75 8.50) scale(1.097 1)" x="0" y="0" text-anchor="middle" font-size="8.8" stroke="#1c1c1c" stroke-width="0.24">9.91 (251,6)</text>
<line x1="442.5" y1="25" x2="442.5" y2="51" stroke="#1c1c1c" stroke-width="0.98" />
<line x1="530.75" y1="25" x2="530.75" y2="51" stroke="#1c1c1c" stroke-width="0.98" />
<line x1="648" y1="25" x2="648" y2="51" stroke="#1c1c1c" stroke-width="0.98" />
<line x1="442.5" y1="30" x2="460" y2="30" stroke="#1c1c1c" stroke-width="0.98" />
<line x1="512.5" y1="30" x2="530.75" y2="30" stroke="#1c1c1c" stroke-width="0.98" />
<line x1="530.75" y1="30" x2="560" y2="30" stroke="#1c1c1c" stroke-width="0.98" />
<line x1="618.5" y1="30" x2="648" y2="30" stroke="#1c1c1c" stroke-width="0.98" />
<path d="M442.50 30.00 L452.00 28.45 L452.00 31.55 Z" fill="#1c1c1c" stroke="none"/>
<path d="M530.75 30.00 L521.25 31.55 L521.25 28.45 Z" fill="#1c1c1c" stroke="none"/>
<path d="M530.75 30.00 L540.25 28.45 L540.25 31.55 Z" fill="#1c1c1c" stroke="none"/>
<path d="M648.00 30.00 L638.50 31.55 L638.50 28.45 Z" fill="#1c1c1c" stroke="none"/>
<text transform="translate(486.25 33.00) scale(1.097 1)" x="0" y="0" text-anchor="middle" font-size="8.8" stroke="#1c1c1c" stroke-width="0.24">2.97 (75,4)</text>
<text transform="translate(589.25 33.00) scale(1.097 1)" x="0" y="0" text-anchor="middle" font-size="8.8" stroke="#1c1c1c" stroke-width="0.24">4.80 (121,9)</text>
<line x1="388" y1="230.75" x2="492.5" y2="230.75" stroke="#1c1c1c" stroke-width="0.98" />
<line x1="387.5" y1="321.75" x2="472.5" y2="321.75" stroke="#1c1c1c" stroke-width="0.98" />
<line x1="390" y1="230.75" x2="390" y2="265" stroke="#1c1c1c" stroke-width="0.98" />
<line x1="390" y1="280" x2="390" y2="321.75" stroke="#1c1c1c" stroke-width="0.98" />
<path d="M390.00 230.75 L391.55 240.25 L388.45 240.25 Z" fill="#1c1c1c" stroke="none"/>
<path d="M390.00 321.75 L388.45 312.25 L391.55 312.25 Z" fill="#1c1c1c" stroke="none"/>
<text transform="translate(392 276.00) scale(1.097 1)" x="0" y="0" text-anchor="middle" font-size="8.8" stroke="#1c1c1c" stroke-width="0.24">3.72 (94,4)</text>
<line x1="657.5" y1="218.75" x2="757.5" y2="218.75" stroke="#1c1c1c" stroke-width="0.98" />
<line x1="648.75" y1="321.75" x2="757.5" y2="321.75" stroke="#1c1c1c" stroke-width="0.98" />
<line x1="753" y1="218.75" x2="753" y2="240" stroke="#1c1c1c" stroke-width="0.98" />
<line x1="753" y1="260" x2="753" y2="321.75" stroke="#1c1c1c" stroke-width="0.98" />
<path d="M753.00 218.75 L754.55 228.25 L751.45 228.25 Z" fill="#1c1c1c" stroke="none"/>
<path d="M753.00 321.75 L751.45 312.25 L754.55 312.25 Z" fill="#1c1c1c" stroke="none"/>
<text transform="translate(753 248.00) scale(1.097 1)" x="0" y="0" text-anchor="middle" font-size="8.8" stroke="#1c1c1c" stroke-width="0.24">4.21</text>
<text transform="translate(753 257.40) scale(1.097 1)" x="0" y="0" text-anchor="middle" font-size="8.8" stroke="#1c1c1c" stroke-width="0.24">(107,0)</text>
<line x1="656" y1="239.25" x2="712.5" y2="239.25" stroke="#1c1c1c" stroke-width="0.98" />
<line x1="657.5" y1="294.5" x2="712.5" y2="294.5" stroke="#1c1c1c" stroke-width="0.98" />
<line x1="703" y1="239.25" x2="703" y2="257.5" stroke="#1c1c1c" stroke-width="0.98" />
<line x1="703" y1="278.5" x2="703" y2="294.5" stroke="#1c1c1c" stroke-width="0.98" />
<path d="M703.00 239.25 L704.55 248.75 L701.45 248.75 Z" fill="#1c1c1c" stroke="none"/>
<path d="M703.00 294.50 L701.45 285.00 L704.55 285.00 Z" fill="#1c1c1c" stroke="none"/>
<text transform="translate(703.5 266.00) scale(1.097 1)" x="0" y="0" text-anchor="middle" font-size="8.8" stroke="#1c1c1c" stroke-width="0.24">2.25 (57,2)</text>
<text transform="translate(703.5 275.60) scale(1.097 1)" x="0" y="0" text-anchor="middle" font-size="8.8" stroke="#1c1c1c" stroke-width="0.24">3 PLACES</text>
<line x1="703" y1="321.75" x2="703" y2="339" stroke="#1c1c1c" stroke-width="0.98" />
<path d="M703.00 321.75 L704.55 331.25 L701.45 331.25 Z" fill="#1c1c1c" stroke="none"/>
<text transform="translate(703.5 307.60) scale(1.097 1)" x="0" y="0" text-anchor="middle" font-size="8.8" stroke="#1c1c1c" stroke-width="0.24">1.13 (28,6)</text>
<text transform="translate(703.5 317.20) scale(1.097 1)" x="0" y="0" text-anchor="middle" font-size="8.8" stroke="#1c1c1c" stroke-width="0.24">3 PLACES</text>
<line x1="500" y1="301" x2="500" y2="350" stroke="#1c1c1c" stroke-width="0.98" />
<line x1="561.25" y1="301" x2="561.25" y2="350" stroke="#1c1c1c" stroke-width="0.98" />
<line x1="648.75" y1="300" x2="648.75" y2="350" stroke="#1c1c1c" stroke-width="0.98" />
<line x1="482.5" y1="346.25" x2="500" y2="346.25" stroke="#1c1c1c" stroke-width="0.98" />
<path d="M500.00 346.25 L490.50 347.80 L490.50 344.70 Z" fill="#1c1c1c" stroke="none"/>
<line x1="561.25" y1="346.25" x2="577.5" y2="346.25" stroke="#1c1c1c" stroke-width="0.98" />
<path d="M561.25 346.25 L570.75 344.70 L570.75 347.80 Z" fill="#1c1c1c" stroke="none"/>
<line x1="630" y1="346.25" x2="648.75" y2="346.25" stroke="#1c1c1c" stroke-width="0.98" />
<path d="M648.75 346.25 L639.25 347.80 L639.25 344.70 Z" fill="#1c1c1c" stroke="none"/>
<text transform="translate(530 349.25) scale(1.097 1)" x="0" y="0" text-anchor="middle" font-size="8.8" stroke="#1c1c1c" stroke-width="0.24">2.50 (63,5)</text>
<text transform="translate(604.5 349.25) scale(1.097 1)" x="0" y="0" text-anchor="middle" font-size="8.8" stroke="#1c1c1c" stroke-width="0.24">3.55 (90,2)</text>
<line x1="220.7" y1="101.6" x2="220.7" y2="195" stroke="#1c1c1c" stroke-width="0.98" />
<line x1="220.7" y1="195" x2="169.5" y2="214.7" stroke="#1c1c1c" stroke-width="0.98" />
<line x1="169.4" y1="214.5" x2="169.4" y2="314.5" stroke="#1c1c1c" stroke-width="0.98" />
<line x1="272.4" y1="101.6" x2="272.4" y2="211" stroke="#1c1c1c" stroke-width="0.98" />
<line x1="220.7" y1="106.4" x2="282" y2="106.4" stroke="#1c1c1c" stroke-width="0.98" />
<path d="M220.70 106.40 L230.20 104.85 L230.20 107.95 Z" fill="#1c1c1c" stroke="none"/>
<path d="M272.40 106.40 L262.90 107.95 L262.90 104.85 Z" fill="#1c1c1c" stroke="none"/>
<text transform="translate(285 109.40) scale(1.097 1)" x="0" y="0" text-anchor="start" font-size="8.8" stroke="#1c1c1c" stroke-width="0.24">4.20 (106,7)</text>
<text transform="translate(285 119.00) scale(1.097 1)" x="0" y="0" text-anchor="start" font-size="8.8" stroke="#1c1c1c" stroke-width="0.24">3 PLACES</text>
<text transform="translate(50 145.40) scale(1.097 1)" x="0" y="0" text-anchor="middle" font-size="8.8" stroke="#1c1c1c" stroke-width="0.24">10.66 (270,6)</text>
<text transform="translate(50 154.80) scale(1.097 1)" x="0" y="0" text-anchor="middle" font-size="8.8" stroke="#1c1c1c" stroke-width="0.24">RADIUS</text>
<text transform="translate(50 164.20) scale(1.097 1)" x="0" y="0" text-anchor="middle" font-size="8.8" stroke="#1c1c1c" stroke-width="0.24">3 PLACES</text>
<line x1="8" y1="101" x2="34" y2="133.6" stroke="#1c1c1c" stroke-width="0.98" />
<path d="M8.00 101.00 L15.13 107.46 L12.71 109.40 Z" fill="#1c1c1c" stroke="none"/>
<line x1="62" y1="169" x2="169" y2="303" stroke="#1c1c1c" stroke-width="0.98" />
<path d="M0.6 107.2 A258.3 258.3 0 0 1 38.3 80.2" stroke="#1c1c1c" stroke-width="0.98" fill="none" stroke-linejoin="round" stroke-linecap="round" />
<path d="M42.6 77.7 A258.3 258.3 0 0 1 136.6 46.7" stroke="#1c1c1c" stroke-width="0.98" fill="none" stroke-linejoin="round" stroke-linecap="round" />
<text transform="translate(320 192.60) scale(1.097 1)" x="0" y="0" text-anchor="start" font-size="8.8" stroke="#1c1c1c" stroke-width="0.24">5/16-24 THD</text>
<text transform="translate(320 202.30) scale(1.097 1)" x="0" y="0" text-anchor="start" font-size="8.8" stroke="#1c1c1c" stroke-width="0.24">6 PLACES</text>
<line x1="318" y1="189.6" x2="309.5" y2="189.6" stroke="#1c1c1c" stroke-width="0.98" />
<line x1="309.5" y1="189.6" x2="296.5" y2="229" stroke="#1c1c1c" stroke-width="0.98" />
<path d="M294.60 234.50 L295.65 226.42 L298.59 227.40 Z" fill="#1c1c1c" stroke="none"/>
<line x1="73.6" y1="303.7" x2="146" y2="303.7" stroke="#1c1c1c" stroke-width="0.98" />
<line x1="73.6" y1="321.7" x2="183" y2="321.7" stroke="#1c1c1c" stroke-width="0.98" />
<line x1="82.9" y1="286" x2="82.9" y2="303.7" stroke="#1c1c1c" stroke-width="0.98" />
<line x1="82.9" y1="321.7" x2="82.9" y2="338.6" stroke="#1c1c1c" stroke-width="0.98" />
<path d="M82.90 303.70 L81.35 294.20 L84.45 294.20 Z" fill="#1c1c1c" stroke="none"/>
<path d="M82.90 321.70 L84.45 331.20 L81.35 331.20 Z" fill="#1c1c1c" stroke="none"/>
<text transform="translate(82 349.00) scale(1.097 1)" x="0" y="0" text-anchor="middle" font-size="8.8" stroke="#1c1c1c" stroke-width="0.24">.740 (18,8)</text>
<text transform="translate(82 358.80) scale(1.097 1)" x="0" y="0" text-anchor="middle" font-size="8.8" stroke="#1c1c1c" stroke-width="0.24">3 PLACES</text>
<line x1="276.2" y1="319.5" x2="319" y2="319.5" stroke="#1c1c1c" stroke-width="0.98" />
<line x1="264.5" y1="321.8" x2="319" y2="321.8" stroke="#1c1c1c" stroke-width="0.98" />
<line x1="310.3" y1="302.5" x2="310.3" y2="319.5" stroke="#1c1c1c" stroke-width="0.98" />
<line x1="310.3" y1="321.8" x2="310.3" y2="338.6" stroke="#1c1c1c" stroke-width="0.98" />
<path d="M310.30 319.50 L308.75 310.00 L311.85 310.00 Z" fill="#1c1c1c" stroke="none"/>
<path d="M310.30 321.80 L311.85 331.30 L308.75 331.30 Z" fill="#1c1c1c" stroke="none"/>
<text transform="translate(310.6 349.00) scale(1.097 1)" x="0" y="0" text-anchor="middle" font-size="8.8" stroke="#1c1c1c" stroke-width="0.24">.09 (2,3)</text>
<text transform="translate(310.6 358.80) scale(1.097 1)" x="0" y="0" text-anchor="middle" font-size="8.8" stroke="#1c1c1c" stroke-width="0.24">6 PLACES</text>
<text transform="translate(428.75 408.50) scale(1.097 1)" x="0" y="0" text-anchor="start" font-size="8.8" stroke="#1c1c1c" stroke-width="0.24">3.60 (91,4)</text>
<text transform="translate(428.75 418.00) scale(1.097 1)" x="0" y="0" text-anchor="start" font-size="8.8" stroke="#1c1c1c" stroke-width="0.24">2 PLACES</text>
<line x1="477.5" y1="405.2" x2="486.5" y2="405.2" stroke="#1c1c1c" stroke-width="0.98" />
<line x1="486.5" y1="401" x2="486.5" y2="466" stroke="#1c1c1c" stroke-width="0.98" />
<line x1="574.5" y1="401" x2="574.5" y2="457.5" stroke="#1c1c1c" stroke-width="0.98" />
<line x1="635.75" y1="401" x2="635.75" y2="466" stroke="#1c1c1c" stroke-width="0.98" />
<line x1="486.5" y1="405.2" x2="643" y2="405.2" stroke="#1c1c1c" stroke-width="0.98" />
<path d="M486.50 405.20 L496.00 403.65 L496.00 406.75 Z" fill="#1c1c1c" stroke="none"/>
<path d="M574.50 405.20 L565.00 406.75 L565.00 403.65 Z" fill="#1c1c1c" stroke="none"/>
<path d="M574.50 405.20 L584.00 403.65 L584.00 406.75 Z" fill="#1c1c1c" stroke="none"/>
<path d="M635.75 405.20 L626.25 406.75 L626.25 403.65 Z" fill="#1c1c1c" stroke="none"/>
<text transform="translate(647 408.50) scale(1.097 1)" x="0" y="0" text-anchor="start" font-size="8.8" stroke="#1c1c1c" stroke-width="0.24">2.50 (63,5)</text>
<line x1="606.75" y1="418.5" x2="606.75" y2="522.5" stroke="#1c1c1c" stroke-width="0.98" />
<line x1="606.75" y1="422" x2="643" y2="422" stroke="#1c1c1c" stroke-width="0.98" />
<path d="M606.75 422.00 L616.25 420.45 L616.25 423.55 Z" fill="#1c1c1c" stroke="none"/>
<path d="M635.75 422.00 L626.25 423.55 L626.25 420.45 Z" fill="#1c1c1c" stroke="none"/>
<text transform="translate(647 425.00) scale(1.097 1)" x="0" y="0" text-anchor="start" font-size="8.8" stroke="#1c1c1c" stroke-width="0.24">1.20 (30,4)</text>
<text transform="translate(378.75 447.50) scale(1.097 1)" x="0" y="0" text-anchor="start" font-size="8.8" stroke="#1c1c1c" stroke-width="0.24">.33 (8,4) THRU</text>
<text transform="translate(378.75 457.20) scale(1.097 1)" x="0" y="0" text-anchor="start" font-size="8.8" stroke="#1c1c1c" stroke-width="0.24">6 PLACES</text>
<line x1="444.5" y1="443.75" x2="452.5" y2="443.75" stroke="#1c1c1c" stroke-width="0.98" />
<line x1="452.5" y1="443.75" x2="477" y2="467" stroke="#1c1c1c" stroke-width="0.98" />
<path d="M482.30 472.20 L475.44 467.80 L477.58 465.55 Z" fill="#1c1c1c" stroke="none"/>
<line x1="657.5" y1="433" x2="732" y2="433" stroke="#1c1c1c" stroke-width="0.98" />
<line x1="665" y1="454.8" x2="783.3" y2="454.8" stroke="#1c1c1c" stroke-width="0.98" />
<line x1="648.75" y1="476.4" x2="783.3" y2="476.4" stroke="#1c1c1c" stroke-width="0.98" />
<line x1="618.75" y1="530.7" x2="732" y2="530.7" stroke="#1c1c1c" stroke-width="0.98" />
<line x1="728.9" y1="416" x2="728.9" y2="433" stroke="#1c1c1c" stroke-width="0.98" />
<path d="M728.90 433.00 L727.35 423.50 L730.45 423.50 Z" fill="#1c1c1c" stroke="none"/>
<line x1="728.9" y1="454.8" x2="728.9" y2="472.8" stroke="#1c1c1c" stroke-width="0.98" />
<path d="M728.90 454.80 L730.45 464.30 L727.35 464.30 Z" fill="#1c1c1c" stroke="none"/>
<line x1="728.9" y1="476.4" x2="728.9" y2="490.7" stroke="#1c1c1c" stroke-width="0.98" />
<path d="M728.90 476.40 L730.45 485.90 L727.35 485.90 Z" fill="#1c1c1c" stroke="none"/>
<line x1="728.9" y1="515.3" x2="728.9" y2="530.7" stroke="#1c1c1c" stroke-width="0.98" />
<path d="M728.90 530.70 L727.35 521.20 L730.45 521.20 Z" fill="#1c1c1c" stroke="none"/>
<text transform="translate(727.8 443.00) scale(1.097 1)" x="0" y="0" text-anchor="middle" font-size="8.8" stroke="#1c1c1c" stroke-width="0.24">.88 (22,4)</text>
<text transform="translate(727.8 452.20) scale(1.097 1)" x="0" y="0" text-anchor="middle" font-size="8.8" stroke="#1c1c1c" stroke-width="0.24">6 PLACES</text>
<text transform="translate(727.8 501.00) scale(1.097 1)" x="0" y="0" text-anchor="middle" font-size="8.8" stroke="#1c1c1c" stroke-width="0.24">2,23 (56,5)</text>
<text transform="translate(727.8 510.60) scale(1.097 1)" x="0" y="0" text-anchor="middle" font-size="8.8" stroke="#1c1c1c" stroke-width="0.24">3 PLACES</text>
<line x1="780.1" y1="437.5" x2="780.1" y2="454.8" stroke="#1c1c1c" stroke-width="0.98" />
<path d="M780.10 454.80 L778.55 445.30 L781.65 445.30 Z" fill="#1c1c1c" stroke="none"/>
<line x1="780.1" y1="476.4" x2="780.1" y2="493.7" stroke="#1c1c1c" stroke-width="0.98" />
<path d="M780.10 476.40 L781.65 485.90 L778.55 485.90 Z" fill="#1c1c1c" stroke="none"/>
<text transform="translate(779.8 464.80) scale(1.097 1)" x="0" y="0" text-anchor="middle" font-size="8.8" stroke="#1c1c1c" stroke-width="0.24">.88 (22,4)</text>
<text transform="translate(779.8 474.00) scale(1.097 1)" x="0" y="0" text-anchor="middle" font-size="8.8" stroke="#1c1c1c" stroke-width="0.24">6 PLACES</text>
<text transform="translate(72.6 698.40) scale(1.097 1)" x="0" y="0" text-anchor="start" font-size="8.8" stroke="#1c1c1c" stroke-width="0.24">P/N 340-12410, PEDAL ASSEMBLY, BRAKE / CLUTCH / GAS</text>
</g>
</svg>
</body></html>
